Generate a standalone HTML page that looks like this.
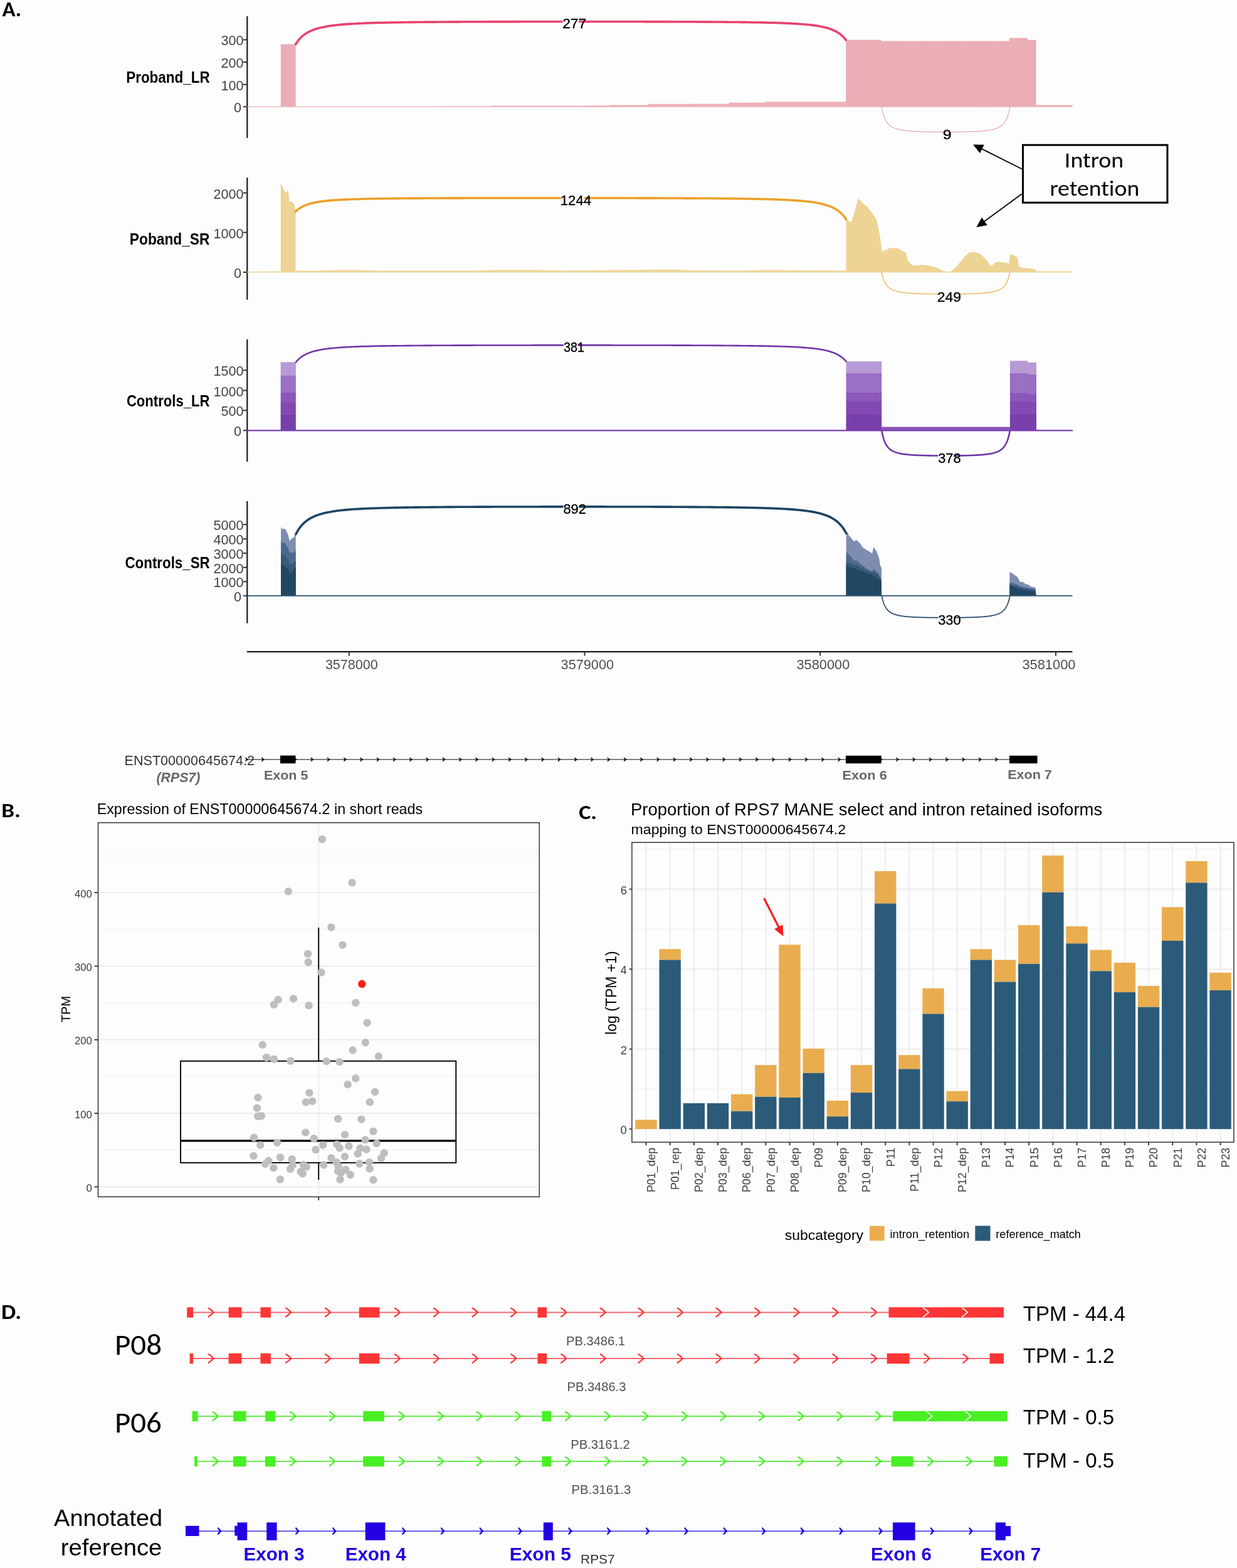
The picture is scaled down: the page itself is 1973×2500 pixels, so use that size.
<!DOCTYPE html>
<html><head><meta charset="utf-8"><title>RPS7 intron retention figure</title>
<style>
html,body{margin:0;padding:0;background:#fdfdfd;}
body{width:1973px;height:2500px;overflow:hidden;}
svg{display:block;}
text{font-variant-ligatures:none;font-feature-settings:"liga" 0,"clig" 0,"dlig" 0;}
</style></head>
<body>
<svg width="1973" height="2500" viewBox="0 0 1973 2500">
<defs><pattern id="stp" x="0.3" y="0" width="3.3" height="20" patternUnits="userSpaceOnUse"><rect x="0" y="0" width="1.1" height="20" fill="#000" fill-opacity="0.035"/></pattern></defs>
<rect x="0" y="0" width="1973" height="2500" fill="#fdfdfd"/>
<line x1="394.3" y1="25.8" x2="394.3" y2="220" stroke="#1a1a1a" stroke-width="2.2"/>
<line x1="387.8" y1="63.4" x2="394.3" y2="63.4" stroke="#333" stroke-width="2"/>
<text x="352.39" y="72.4" font-size="21.6" fill="#444" font-family="'Liberation Sans', Arial, sans-serif">300</text>
<line x1="387.8" y1="99" x2="394.3" y2="99" stroke="#333" stroke-width="2"/>
<text x="352.39" y="108" font-size="21.6" fill="#444" font-family="'Liberation Sans', Arial, sans-serif">200</text>
<line x1="387.8" y1="134.7" x2="394.3" y2="134.7" stroke="#333" stroke-width="2"/>
<text x="352.39" y="143.7" font-size="21.6" fill="#444" font-family="'Liberation Sans', Arial, sans-serif">100</text>
<line x1="387.8" y1="170.2" x2="394.3" y2="170.2" stroke="#333" stroke-width="2"/>
<text x="373.02" y="179.2" font-size="21.6" fill="#444" font-family="'Liberation Sans', Arial, sans-serif">0</text>
<text x="201.18" y="131.9" font-size="25" fill="#000" font-weight="bold" font-family="'Liberation Sans', Arial, sans-serif" textLength="133.52" lengthAdjust="spacingAndGlyphs">Proband_LR</text>
<polygon points="394.3,170.8 394.3,169.4 447.8,169.4 447.8,70.5 471.6,70.5 471.6,169.6 700,169.6 700,169.2 784,169.2 784,168.6 938,168.6 938,168.3 973,168.3 973,167.4 1034,167.4 1034,165.8 1105,165.8 1105,165.4 1163,165.4 1163,163.4 1220,163.4 1220,162.2 1349.2,162.2 1349.2,63.6 1406,63.6 1406,65.6 1610,65.6 1610,60.6 1639,60.6 1639,63.8 1652.7,63.8 1652.7,167.4 1710.7,167.4 1710.7,170.8" fill="#eeb0b8"/>
<polygon points="1349.2,63.6 1406,63.6 1406,65.6 1610,65.6 1610,60.6 1639,60.6 1639,63.8 1652.7,63.8 1652.7,170.2 1349.2,170.2" fill="url(#stp)"/>
<rect x="447.8" y="70.5" width="23.8" height="99.7" fill="url(#stp)"/>
<polyline points="471.6,70.57 471.64,70.51 471.75,70.32 471.94,70.01 472.2,69.59 472.54,69.06 472.95,68.42 473.44,67.69 474,66.88 474.64,65.99 475.35,65.05 476.14,64.05 477,63.01 477.94,61.94 478.95,60.86 480.03,59.76 481.19,58.66 482.42,57.57 483.72,56.48 485.1,55.42 486.55,54.38 488.07,53.37 489.67,52.39 491.34,51.44 493.08,50.53 494.89,49.65 496.77,48.81 498.72,48.01 500.74,47.25 502.84,46.52 505,45.83 507.23,45.18 509.54,44.56 511.91,43.98 514.35,43.43 516.85,42.91 519.43,42.42 522.07,41.95 524.78,41.52 527.55,41.11 530.39,40.72 533.29,40.36 536.26,40.02 539.29,39.7 542.39,39.4 545.55,39.12 548.77,38.85 552.06,38.6 555.4,38.36 558.81,38.14 562.28,37.93 565.8,37.74 569.39,37.55 573.03,37.38 576.73,37.22 580.49,37.06 584.31,36.92 588.18,36.78 592.11,36.65 596.09,36.53 600.12,36.42 604.21,36.31 608.35,36.21 612.54,36.11 616.79,36.02 621.08,35.94 625.42,35.85 629.81,35.78 634.25,35.71 638.74,35.64 643.28,35.57 647.86,35.51 652.48,35.45 657.15,35.4 661.86,35.35 666.62,35.3 671.41,35.25 676.25,35.21 681.13,35.16 686.04,35.12 691,35.09 695.99,35.05 701.02,35.02 706.09,34.98 711.19,34.95 716.32,34.92 721.49,34.9 726.69,34.87 731.92,34.84 737.19,34.82 742.48,34.8 747.8,34.78 753.15,34.76 758.52,34.74 763.93,34.72 769.35,34.7 774.8,34.69 780.28,34.67 785.77,34.66 791.29,34.64 796.83,34.63 802.39,34.62 807.96,34.61 813.56,34.6 819.17,34.59 824.79,34.58 830.44,34.57 836.09,34.56 841.76,34.55 847.44,34.54 853.13,34.54 858.82,34.53 864.53,34.53 870.25,34.52 875.97,34.52 881.7,34.51 887.43,34.51 893.17,34.51 898.91,34.5 904.66,34.5 910.4,34.5 916.14,34.5 921.89,34.5 927.63,34.5 933.37,34.5 939.1,34.5 944.83,34.5 950.55,34.5 956.27,34.5 961.98,34.51 967.67,34.51 973.36,34.51 979.04,34.52 984.71,34.52 990.36,34.53 996.01,34.53 1001.63,34.54 1007.24,34.55 1012.84,34.55 1018.41,34.56 1023.97,34.57 1029.51,34.58 1035.03,34.59 1040.52,34.6 1046,34.61 1051.45,34.63 1056.87,34.64 1062.28,34.65 1067.65,34.67 1073,34.68 1078.32,34.7 1083.61,34.72 1088.88,34.73 1094.11,34.75 1099.31,34.77 1104.48,34.8 1109.61,34.82 1114.71,34.84 1119.78,34.87 1124.81,34.9 1129.8,34.92 1134.76,34.96 1139.67,34.99 1144.55,35.02 1149.39,35.06 1154.18,35.09 1158.94,35.13 1163.65,35.18 1168.32,35.22 1172.94,35.27 1177.52,35.32 1182.06,35.37 1186.55,35.42 1190.99,35.48 1195.38,35.55 1199.72,35.61 1204.01,35.68 1208.26,35.75 1212.45,35.83 1216.59,35.92 1220.68,36 1224.71,36.1 1228.69,36.19 1232.62,36.3 1236.49,36.41 1240.31,36.53 1244.07,36.65 1247.77,36.79 1251.41,36.93 1255,37.08 1258.52,37.24 1261.99,37.41 1265.4,37.59 1268.74,37.78 1272.03,37.98 1275.25,38.2 1278.41,38.43 1281.51,38.68 1284.54,38.94 1287.51,39.22 1290.41,39.51 1293.25,39.83 1296.02,40.16 1298.73,40.52 1301.37,40.9 1303.95,41.3 1306.45,41.72 1308.89,42.17 1311.26,42.65 1313.57,43.15 1315.8,43.68 1317.96,44.25 1320.06,44.84 1322.08,45.46 1324.03,46.12 1325.91,46.8 1327.72,47.52 1329.46,48.26 1331.13,49.04 1332.73,49.84 1334.25,50.66 1335.7,51.51 1337.08,52.38 1338.38,53.26 1339.61,54.16 1340.77,55.06 1341.85,55.95 1342.86,56.84 1343.8,57.71 1344.66,58.56 1345.45,59.38 1346.16,60.15 1346.8,60.87 1347.36,61.53 1347.85,62.13 1348.26,62.65 1348.6,63.08 1348.86,63.43 1349.05,63.68 1349.16,63.83 1349.2,63.88" fill="none" stroke="#e8426f" stroke-width="3.6" stroke-linecap="round"/>
<polyline points="1406,170.02 1406.01,170.07 1406.04,170.22 1406.08,170.46 1406.14,170.8 1406.22,171.24 1406.32,171.76 1406.43,172.36 1406.56,173.03 1406.71,173.78 1406.88,174.58 1407.06,175.44 1407.26,176.35 1407.48,177.3 1407.72,178.28 1407.97,179.29 1408.24,180.32 1408.53,181.35 1408.83,182.4 1409.15,183.44 1409.49,184.48 1409.85,185.51 1410.22,186.53 1410.61,187.53 1411.02,188.52 1411.44,189.47 1411.88,190.41 1412.34,191.32 1412.81,192.2 1413.3,193.05 1413.8,193.87 1414.32,194.66 1414.86,195.42 1415.42,196.16 1415.99,196.86 1416.57,197.53 1417.17,198.17 1417.79,198.78 1418.42,199.37 1419.07,199.93 1419.73,200.46 1420.41,200.97 1421.1,201.46 1421.81,201.92 1422.54,202.35 1423.27,202.77 1424.03,203.16 1424.79,203.54 1425.58,203.9 1426.37,204.24 1427.18,204.56 1428.01,204.86 1428.84,205.15 1429.69,205.43 1430.56,205.69 1431.44,205.94 1432.33,206.17 1433.23,206.4 1434.15,206.61 1435.08,206.81 1436.02,207 1436.98,207.18 1437.94,207.36 1438.92,207.52 1439.91,207.68 1440.92,207.82 1441.93,207.96 1442.96,208.1 1443.99,208.22 1445.04,208.35 1446.1,208.46 1447.17,208.57 1448.25,208.67 1449.34,208.77 1450.44,208.86 1451.55,208.95 1452.67,209.04 1453.8,209.12 1454.94,209.2 1456.09,209.27 1457.25,209.34 1458.42,209.4 1459.59,209.47 1460.77,209.53 1461.97,209.58 1463.17,209.64 1464.37,209.69 1465.59,209.74 1466.81,209.78 1468.04,209.83 1469.27,209.87 1470.52,209.91 1471.77,209.95 1473.02,209.98 1474.28,210.02 1475.55,210.05 1476.83,210.08 1478.1,210.11 1479.39,210.13 1480.68,210.16 1481.97,210.18 1483.27,210.21 1484.57,210.23 1485.88,210.25 1487.19,210.26 1488.5,210.28 1489.82,210.3 1491.14,210.31 1492.47,210.33 1493.79,210.34 1495.12,210.35 1496.45,210.36 1497.79,210.37 1499.12,210.37 1500.46,210.38 1501.8,210.39 1503.14,210.39 1504.48,210.4 1505.82,210.4 1507.16,210.4 1508.5,210.4 1509.84,210.4 1511.18,210.4 1512.52,210.4 1513.86,210.39 1515.2,210.39 1516.54,210.38 1517.88,210.37 1519.21,210.37 1520.55,210.36 1521.88,210.35 1523.21,210.34 1524.53,210.33 1525.86,210.31 1527.18,210.3 1528.5,210.28 1529.81,210.26 1531.12,210.25 1532.43,210.23 1533.73,210.21 1535.03,210.18 1536.32,210.16 1537.61,210.13 1538.9,210.11 1540.17,210.08 1541.45,210.05 1542.72,210.02 1543.98,209.98 1545.23,209.95 1546.48,209.91 1547.73,209.87 1548.96,209.83 1550.19,209.78 1551.41,209.74 1552.63,209.69 1553.83,209.64 1555.03,209.58 1556.23,209.53 1557.41,209.47 1558.58,209.4 1559.75,209.34 1560.91,209.27 1562.06,209.2 1563.2,209.12 1564.33,209.04 1565.45,208.95 1566.56,208.86 1567.66,208.77 1568.75,208.67 1569.83,208.57 1570.9,208.46 1571.96,208.35 1573.01,208.22 1574.04,208.1 1575.07,207.96 1576.08,207.82 1577.09,207.68 1578.08,207.52 1579.06,207.36 1580.02,207.18 1580.98,207 1581.92,206.81 1582.85,206.61 1583.77,206.4 1584.67,206.17 1585.56,205.94 1586.44,205.69 1587.31,205.43 1588.16,205.15 1588.99,204.86 1589.82,204.56 1590.63,204.24 1591.42,203.9 1592.21,203.54 1592.97,203.16 1593.73,202.77 1594.46,202.35 1595.19,201.92 1595.9,201.46 1596.59,200.97 1597.27,200.46 1597.93,199.93 1598.58,199.37 1599.21,198.78 1599.83,198.17 1600.43,197.53 1601.01,196.86 1601.58,196.16 1602.14,195.42 1602.68,194.66 1603.2,193.87 1603.7,193.05 1604.19,192.2 1604.66,191.32 1605.12,190.41 1605.56,189.47 1605.98,188.52 1606.39,187.53 1606.78,186.53 1607.15,185.51 1607.51,184.48 1607.85,183.44 1608.17,182.4 1608.47,181.35 1608.76,180.32 1609.03,179.29 1609.28,178.28 1609.52,177.3 1609.74,176.35 1609.94,175.44 1610.12,174.58 1610.29,173.78 1610.44,173.03 1610.57,172.36 1610.68,171.76 1610.78,171.24 1610.86,170.8 1610.92,170.46 1610.96,170.22 1610.99,170.07 1611,170.02" fill="none" stroke="#e9a2b8" stroke-width="1.2"/>
<rect x="897.4" y="26.4" width="25.7" height="21.5" fill="#fdfdfd"/>
<text x="897.16" y="45.4" font-size="22.6" fill="#000" font-family="'Liberation Sans', Arial, sans-serif" textLength="38" lengthAdjust="spacingAndGlyphs" stroke="#000" stroke-width="0.35">277</text>
<text x="1503.72" y="222.4" font-size="22.6" fill="#000" font-family="'Liberation Sans', Arial, sans-serif" textLength="13.83" lengthAdjust="spacingAndGlyphs" stroke="#000" stroke-width="0.35">9</text>
<line x1="394.3" y1="283.2" x2="394.3" y2="477.8" stroke="#1a1a1a" stroke-width="2.2"/>
<line x1="387.8" y1="307.5" x2="394.3" y2="307.5" stroke="#333" stroke-width="2"/>
<text x="340.4" y="316.5" font-size="21.6" fill="#444" font-family="'Liberation Sans', Arial, sans-serif">2000</text>
<line x1="387.8" y1="370.6" x2="394.3" y2="370.6" stroke="#333" stroke-width="2"/>
<text x="340.4" y="379.6" font-size="21.6" fill="#444" font-family="'Liberation Sans', Arial, sans-serif">1000</text>
<line x1="387.8" y1="434" x2="394.3" y2="434" stroke="#333" stroke-width="2"/>
<text x="373.02" y="443" font-size="21.6" fill="#444" font-family="'Liberation Sans', Arial, sans-serif">0</text>
<text x="206.87" y="390" font-size="25" fill="#000" font-weight="bold" font-family="'Liberation Sans', Arial, sans-serif" textLength="127.53" lengthAdjust="spacingAndGlyphs">Poband_SR</text>
<polygon points="394.3,434.5 394.3,433 440,432.8 447.8,432.2 447.8,293.7 449.5,294.5 451.5,299.2 453.5,304 455.2,308.1 457.5,306 459.4,302.2 460.5,312 461.4,322.9 463,321.5 465.1,320.3 467.5,323.5 469.6,327.3 471.4,334.7 471.4,431.5 500,431.8 530,430.8 570,430.5 600,431.5 760,431.6 800,430.2 850,430.2 900,431.6 1046,430 1081,429.8 1100,431.2 1180,431.4 1220,430.6 1300,431.2 1349.5,431.4 1349.5,349 1352,352 1358,354 1362,341 1369,316 1376,324 1383,329 1384.5,331 1392,341 1397.5,349 1401.5,365 1405.4,388.5 1406.7,401.7 1413,398 1421,395 1432,396 1437,399 1445,403 1447.5,415 1455,423 1463,423.5 1471,422 1484,424 1495,427 1504,432 1508,433 1516,433 1524,427 1537,411 1545,403 1553,401.7 1563,404 1574,415 1580.6,425 1587,419 1592,417 1609.5,420 1611,405 1616,406.5 1622.7,410 1625.4,425.4 1632,427.3 1642.5,428 1651.7,429.5 1652,432.6 1710.5,432.6 1710.5,434.5" fill="#f0d696"/>
<polygon points="1349.5,434 1349.5,431.4 1349.5,349 1352,352 1358,354 1362,341 1369,316 1376,324 1383,329 1384.5,331 1392,341 1397.5,349 1401.5,365 1405.4,388.5 1406.7,401.7 1413,398 1421,395 1432,396 1437,399 1445,403 1447.5,415 1455,423 1463,423.5 1471,422 1484,424 1495,427 1504,432 1508,433 1516,433 1524,427 1537,411 1545,403 1553,401.7 1563,404 1574,415 1580.6,425 1587,419 1592,417 1609.5,420 1611,405 1616,406.5 1622.7,410 1625.4,425.4 1632,427.3 1642.5,428 1651.7,429.5 1652,432.6 1652,434" fill="url(#stp)"/>
<polygon points="447.8,434 447.8,432.2 447.8,293.7 449.5,294.5 451.5,299.2 453.5,304 455.2,308.1 457.5,306 459.4,302.2 460.5,312 461.4,322.9 463,321.5 465.1,320.3 467.5,323.5 469.6,327.3 471.4,334.7 471.4,431.5 471.4,434" fill="url(#stp)"/>
<polyline points="471.4,337.38 471.44,337.34 471.55,337.23 471.74,337.04 472,336.79 472.34,336.47 472.75,336.08 473.24,335.64 473.81,335.15 474.44,334.62 475.16,334.04 475.94,333.44 476.81,332.81 477.74,332.17 478.75,331.51 479.84,330.85 481,330.18 482.23,329.52 483.53,328.87 484.91,328.23 486.36,327.6 487.89,326.99 489.48,326.4 491.15,325.82 492.89,325.27 494.71,324.74 496.59,324.24 498.54,323.76 500.57,323.29 502.66,322.86 504.83,322.44 507.06,322.05 509.37,321.67 511.74,321.32 514.18,320.99 516.69,320.68 519.26,320.38 521.91,320.1 524.62,319.84 527.39,319.59 530.23,319.36 533.14,319.14 536.11,318.94 539.15,318.74 542.25,318.56 545.41,318.39 548.63,318.23 551.92,318.08 555.27,317.94 558.68,317.8 562.15,317.68 565.68,317.56 569.27,317.45 572.91,317.35 576.62,317.25 580.38,317.16 584.2,317.07 588.07,316.99 592,316.91 595.99,316.84 600.02,316.77 604.12,316.7 608.26,316.64 612.45,316.59 616.7,316.53 621,316.48 625.34,316.43 629.74,316.39 634.18,316.34 638.67,316.3 643.21,316.27 647.8,316.23 652.42,316.19 657.1,316.16 661.81,316.13 666.57,316.1 671.37,316.08 676.21,316.05 681.09,316.03 686.02,316 690.97,315.98 695.97,315.96 701.01,315.94 706.08,315.92 711.18,315.9 716.32,315.89 721.49,315.87 726.7,315.86 731.93,315.84 737.2,315.83 742.49,315.82 747.82,315.81 753.17,315.8 758.55,315.79 763.96,315.78 769.39,315.77 774.85,315.76 780.32,315.75 785.82,315.74 791.35,315.74 796.89,315.73 802.45,315.72 808.03,315.72 813.63,315.72 819.25,315.71 824.88,315.71 830.52,315.7 836.18,315.7 841.85,315.7 847.54,315.7 853.23,315.69 858.93,315.69 864.65,315.69 870.37,315.69 876.09,315.69 881.83,315.69 887.57,315.69 893.31,315.69 899.05,315.7 904.8,315.7 910.55,315.7 916.3,315.7 922.05,315.71 927.79,315.71 933.53,315.71 939.27,315.72 945.01,315.72 950.73,315.73 956.45,315.73 962.17,315.74 967.87,315.75 973.56,315.75 979.25,315.76 984.92,315.77 990.58,315.78 996.22,315.79 1001.85,315.8 1007.47,315.81 1013.07,315.82 1018.65,315.83 1024.21,315.84 1029.75,315.85 1035.28,315.87 1040.78,315.88 1046.25,315.9 1051.71,315.91 1057.14,315.93 1062.55,315.95 1067.93,315.97 1073.28,315.99 1078.61,316.01 1083.9,316.03 1089.17,316.05 1094.4,316.08 1099.61,316.1 1104.78,316.13 1109.92,316.16 1115.02,316.19 1120.09,316.22 1125.13,316.25 1130.12,316.28 1135.08,316.32 1140.01,316.36 1144.89,316.4 1149.73,316.44 1154.53,316.49 1159.29,316.53 1164,316.58 1168.68,316.64 1173.3,316.69 1177.89,316.75 1182.43,316.81 1186.92,316.88 1191.36,316.95 1195.76,317.02 1200.1,317.1 1204.4,317.18 1208.65,317.26 1212.84,317.36 1216.98,317.45 1221.08,317.56 1225.11,317.66 1229.1,317.78 1233.03,317.9 1236.9,318.03 1240.72,318.17 1244.48,318.32 1248.19,318.47 1251.83,318.64 1255.42,318.81 1258.95,319 1262.42,319.2 1265.83,319.41 1269.18,319.63 1272.47,319.87 1275.69,320.12 1278.85,320.39 1281.95,320.68 1284.99,320.98 1287.96,321.31 1290.87,321.65 1293.71,322.02 1296.48,322.41 1299.19,322.82 1301.84,323.26 1304.41,323.73 1306.92,324.22 1309.36,324.75 1311.73,325.3 1314.04,325.89 1316.27,326.51 1318.44,327.17 1320.53,327.86 1322.56,328.58 1324.51,329.34 1326.39,330.14 1328.21,330.98 1329.95,331.84 1331.62,332.75 1333.21,333.68 1334.74,334.64 1336.19,335.63 1337.57,336.64 1338.87,337.67 1340.1,338.71 1341.26,339.76 1342.35,340.81 1343.36,341.84 1344.29,342.86 1345.16,343.85 1345.94,344.79 1346.66,345.7 1347.29,346.54 1347.86,347.31 1348.35,348.01 1348.76,348.61 1349.1,349.12 1349.36,349.52 1349.55,349.81 1349.66,349.99 1349.7,350.05" fill="none" stroke="#eba12b" stroke-width="3.6" stroke-linecap="round"/>
<polyline points="1406.2,433.84 1406.21,433.88 1406.24,434.01 1406.28,434.23 1406.34,434.52 1406.42,434.89 1406.52,435.34 1406.63,435.86 1406.76,436.45 1406.91,437.09 1407.08,437.79 1407.26,438.53 1407.46,439.32 1407.68,440.14 1407.91,440.99 1408.17,441.86 1408.44,442.75 1408.72,443.64 1409.03,444.55 1409.35,445.45 1409.69,446.35 1410.04,447.24 1410.41,448.13 1410.8,448.99 1411.21,449.84 1411.63,450.67 1412.07,451.48 1412.53,452.27 1413,453.03 1413.49,453.77 1413.99,454.48 1414.51,455.16 1415.05,455.82 1415.6,456.45 1416.17,457.06 1416.76,457.64 1417.36,458.2 1417.97,458.73 1418.6,459.24 1419.25,459.72 1419.91,460.19 1420.59,460.63 1421.28,461.05 1421.99,461.44 1422.71,461.82 1423.45,462.18 1424.2,462.53 1424.97,462.85 1425.75,463.16 1426.54,463.45 1427.35,463.73 1428.17,464 1429.01,464.25 1429.86,464.49 1430.72,464.72 1431.6,464.93 1432.49,465.13 1433.39,465.33 1434.31,465.51 1435.24,465.69 1436.18,465.85 1437.13,466.01 1438.1,466.16 1439.07,466.3 1440.06,466.44 1441.07,466.57 1442.08,466.69 1443.1,466.8 1444.14,466.91 1445.19,467.02 1446.24,467.12 1447.31,467.21 1448.39,467.3 1449.48,467.39 1450.58,467.47 1451.69,467.55 1452.81,467.62 1453.93,467.69 1455.07,467.76 1456.22,467.82 1457.38,467.88 1458.54,467.94 1459.71,467.99 1460.89,468.04 1462.08,468.09 1463.28,468.14 1464.49,468.18 1465.7,468.23 1466.92,468.27 1468.15,468.3 1469.38,468.34 1470.62,468.37 1471.87,468.41 1473.12,468.44 1474.38,468.47 1475.65,468.49 1476.92,468.52 1478.2,468.55 1479.48,468.57 1480.77,468.59 1482.06,468.61 1483.36,468.63 1484.66,468.65 1485.96,468.67 1487.27,468.68 1488.58,468.7 1489.9,468.71 1491.22,468.72 1492.54,468.74 1493.86,468.75 1495.19,468.76 1496.52,468.76 1497.85,468.77 1499.18,468.78 1500.52,468.78 1501.86,468.79 1503.19,468.79 1504.53,468.8 1505.87,468.8 1507.21,468.8 1508.55,468.8 1509.89,468.8 1511.23,468.8 1512.57,468.8 1513.91,468.79 1515.24,468.79 1516.58,468.78 1517.92,468.78 1519.25,468.77 1520.58,468.76 1521.91,468.76 1523.24,468.75 1524.56,468.74 1525.88,468.72 1527.2,468.71 1528.52,468.7 1529.83,468.68 1531.14,468.67 1532.44,468.65 1533.74,468.63 1535.04,468.61 1536.33,468.59 1537.62,468.57 1538.9,468.55 1540.18,468.52 1541.45,468.49 1542.72,468.47 1543.98,468.44 1545.23,468.41 1546.48,468.37 1547.72,468.34 1548.95,468.3 1550.18,468.27 1551.4,468.23 1552.61,468.18 1553.82,468.14 1555.02,468.09 1556.21,468.04 1557.39,467.99 1558.56,467.94 1559.73,467.88 1560.88,467.82 1562.03,467.76 1563.17,467.69 1564.29,467.62 1565.41,467.55 1566.52,467.47 1567.62,467.39 1568.71,467.3 1569.79,467.21 1570.86,467.12 1571.91,467.02 1572.96,466.91 1574,466.8 1575.02,466.69 1576.03,466.57 1577.04,466.44 1578.03,466.3 1579,466.16 1579.97,466.01 1580.92,465.85 1581.86,465.69 1582.79,465.51 1583.71,465.33 1584.61,465.13 1585.5,464.93 1586.38,464.72 1587.24,464.49 1588.09,464.25 1588.93,464 1589.75,463.73 1590.56,463.45 1591.35,463.16 1592.13,462.85 1592.9,462.53 1593.65,462.18 1594.39,461.82 1595.11,461.44 1595.82,461.05 1596.51,460.63 1597.19,460.19 1597.85,459.72 1598.5,459.24 1599.13,458.73 1599.74,458.2 1600.34,457.64 1600.93,457.06 1601.5,456.45 1602.05,455.82 1602.59,455.16 1603.11,454.48 1603.61,453.77 1604.1,453.03 1604.57,452.27 1605.03,451.48 1605.47,450.67 1605.89,449.84 1606.3,448.99 1606.69,448.13 1607.06,447.24 1607.41,446.35 1607.75,445.45 1608.07,444.55 1608.38,443.64 1608.66,442.75 1608.93,441.86 1609.19,440.99 1609.42,440.14 1609.64,439.32 1609.84,438.53 1610.02,437.79 1610.19,437.09 1610.34,436.45 1610.47,435.86 1610.58,435.34 1610.68,434.89 1610.76,434.52 1610.82,434.23 1610.86,434.01 1610.89,433.88 1610.9,433.84" fill="none" stroke="#e9b24a" stroke-width="1.3"/>
<rect x="894.6" y="308" width="37" height="21.5" fill="#fdfdfd"/>
<text x="893.84" y="327" font-size="22.6" fill="#000" font-family="'Liberation Sans', Arial, sans-serif" textLength="49.11" lengthAdjust="spacingAndGlyphs" stroke="#000" stroke-width="0.35">1244</text>
<rect x="1495.1" y="461.8" width="25.9" height="21.5" fill="#fdfdfd"/>
<text x="1494.86" y="480.8" font-size="22.6" fill="#000" font-family="'Liberation Sans', Arial, sans-serif" textLength="38.2" lengthAdjust="spacingAndGlyphs" stroke="#000" stroke-width="0.35">249</text>
<line x1="394.3" y1="541" x2="394.3" y2="736" stroke="#1a1a1a" stroke-width="2.2"/>
<line x1="387.8" y1="590.3" x2="394.3" y2="590.3" stroke="#333" stroke-width="2"/>
<text x="340.4" y="599.3" font-size="21.6" fill="#444" font-family="'Liberation Sans', Arial, sans-serif">1500</text>
<line x1="387.8" y1="622.5" x2="394.3" y2="622.5" stroke="#333" stroke-width="2"/>
<text x="340.4" y="631.5" font-size="21.6" fill="#444" font-family="'Liberation Sans', Arial, sans-serif">1000</text>
<line x1="387.8" y1="654.3" x2="394.3" y2="654.3" stroke="#333" stroke-width="2"/>
<text x="352.39" y="663.3" font-size="21.6" fill="#444" font-family="'Liberation Sans', Arial, sans-serif">500</text>
<line x1="387.8" y1="686.3" x2="394.3" y2="686.3" stroke="#333" stroke-width="2"/>
<text x="373.02" y="695.3" font-size="21.6" fill="#444" font-family="'Liberation Sans', Arial, sans-serif">0</text>
<text x="201.92" y="647.9" font-size="25" fill="#000" font-weight="bold" font-family="'Liberation Sans', Arial, sans-serif" textLength="132.48" lengthAdjust="spacingAndGlyphs">Controls_LR</text>
<rect x="447.6" y="660.5" width="24.3" height="26.3" fill="#7a40ae"/>
<rect x="447.6" y="640.6" width="24.3" height="20.2" fill="#8549b5"/>
<rect x="447.6" y="626" width="24.3" height="14.9" fill="#8c58bc"/>
<rect x="447.6" y="598.2" width="24.3" height="28.1" fill="#9c70c7"/>
<rect x="447.6" y="577.4" width="24.3" height="21.1" fill="#b99cd8"/>
<rect x="447.6" y="577.4" width="24.3" height="108.9" fill="url(#stp)"/>
<rect x="1349.5" y="659.6" width="56.7" height="27.2" fill="#7a40ae"/>
<rect x="1349.5" y="639.9" width="56.7" height="20" fill="#8549b5"/>
<rect x="1349.5" y="625.6" width="56.7" height="14.6" fill="#8c58bc"/>
<rect x="1349.5" y="595" width="56.7" height="30.9" fill="#9c70c7"/>
<rect x="1349.5" y="576.2" width="56.7" height="19.1" fill="#b99cd8"/>
<rect x="1349.5" y="576.2" width="56.7" height="110.1" fill="url(#stp)"/>
<rect x="1610.9" y="659.6" width="28.2" height="27.2" fill="#7a40ae"/>
<rect x="1610.9" y="639.9" width="28.2" height="20" fill="#8549b5"/>
<rect x="1610.9" y="625.4" width="28.2" height="14.8" fill="#8c58bc"/>
<rect x="1610.9" y="594.6" width="28.2" height="31.1" fill="#9c70c7"/>
<rect x="1610.9" y="575.3" width="28.2" height="19.6" fill="#b99cd8"/>
<rect x="1610.9" y="575.3" width="28.2" height="111" fill="url(#stp)"/>
<rect x="1638.6" y="659.6" width="14.4" height="27.2" fill="#7a40ae"/>
<rect x="1638.6" y="639.9" width="14.4" height="20" fill="#8549b5"/>
<rect x="1638.6" y="628" width="14.4" height="12.2" fill="#8c58bc"/>
<rect x="1638.6" y="596.4" width="14.4" height="31.9" fill="#9c70c7"/>
<rect x="1638.6" y="578" width="14.4" height="18.7" fill="#b99cd8"/>
<rect x="1638.6" y="578" width="14.4" height="108.3" fill="url(#stp)"/>
<rect x="1406.2" y="680.6" width="204.7" height="5.7" fill="#8a55ba"/>
<line x1="394.3" y1="686.3" x2="1711" y2="686.3" stroke="#7a3fb0" stroke-width="2.2"/>
<polyline points="471.9,577.46 471.94,577.41 472.05,577.27 472.24,577.04 472.5,576.72 472.84,576.32 473.25,575.85 473.74,575.3 474.3,574.69 474.94,574.03 475.65,573.31 476.44,572.57 477.3,571.79 478.24,570.98 479.25,570.17 480.33,569.34 481.49,568.52 482.72,567.7 484.02,566.88 485.4,566.09 486.85,565.31 488.37,564.55 489.97,563.81 491.64,563.1 493.38,562.41 495.19,561.75 497.07,561.12 499.02,560.52 501.04,559.95 503.14,559.4 505.3,558.89 507.53,558.4 509.84,557.93 512.21,557.5 514.65,557.08 517.15,556.69 519.73,556.32 522.37,555.98 525.08,555.65 527.85,555.34 530.69,555.05 533.59,554.78 536.56,554.52 539.59,554.28 542.69,554.06 545.85,553.84 549.07,553.64 552.36,553.46 555.7,553.28 559.11,553.11 562.58,552.96 566.1,552.81 569.69,552.67 573.33,552.54 577.03,552.42 580.79,552.3 584.61,552.2 588.48,552.09 592.41,552 596.39,551.91 600.42,551.82 604.51,551.74 608.65,551.66 612.84,551.59 617.09,551.52 621.38,551.46 625.72,551.4 630.11,551.34 634.55,551.29 639.04,551.24 643.58,551.19 648.16,551.14 652.78,551.1 657.45,551.06 662.16,551.02 666.92,550.98 671.71,550.95 676.55,550.91 681.43,550.88 686.34,550.85 691.3,550.82 696.29,550.8 701.32,550.77 706.39,550.75 711.49,550.72 716.62,550.7 721.79,550.68 726.99,550.66 732.22,550.64 737.49,550.63 742.78,550.61 748.1,550.59 753.45,550.58 758.82,550.57 764.23,550.55 769.65,550.54 775.1,550.53 780.58,550.52 786.07,550.51 791.59,550.5 797.13,550.49 802.69,550.48 808.26,550.47 813.86,550.46 819.47,550.45 825.09,550.45 830.74,550.44 836.39,550.44 842.06,550.43 847.74,550.43 853.43,550.42 859.12,550.42 864.83,550.41 870.55,550.41 876.27,550.41 882,550.41 887.73,550.4 893.47,550.4 899.21,550.4 904.96,550.4 910.7,550.4 916.44,550.4 922.19,550.4 927.93,550.4 933.67,550.4 939.4,550.4 945.13,550.41 950.85,550.41 956.57,550.41 962.28,550.41 967.97,550.42 973.66,550.42 979.34,550.43 985.01,550.43 990.66,550.43 996.31,550.44 1001.93,550.45 1007.54,550.45 1013.14,550.46 1018.71,550.47 1024.27,550.48 1029.81,550.48 1035.33,550.49 1040.82,550.5 1046.3,550.51 1051.75,550.53 1057.17,550.54 1062.58,550.55 1067.95,550.56 1073.3,550.58 1078.62,550.59 1083.91,550.61 1089.18,550.62 1094.41,550.64 1099.61,550.66 1104.78,550.68 1109.91,550.7 1115.01,550.72 1120.08,550.74 1125.11,550.77 1130.1,550.79 1135.06,550.82 1139.97,550.85 1144.85,550.88 1149.69,550.91 1154.48,550.94 1159.24,550.98 1163.95,551.02 1168.62,551.06 1173.24,551.1 1177.82,551.14 1182.36,551.19 1186.85,551.24 1191.29,551.29 1195.68,551.34 1200.02,551.4 1204.31,551.46 1208.56,551.53 1212.75,551.6 1216.89,551.67 1220.98,551.75 1225.01,551.83 1228.99,551.91 1232.92,552.01 1236.79,552.1 1240.61,552.21 1244.37,552.32 1248.07,552.44 1251.71,552.56 1255.3,552.69 1258.82,552.83 1262.29,552.98 1265.7,553.14 1269.04,553.31 1272.33,553.49 1275.55,553.68 1278.71,553.88 1281.81,554.1 1284.84,554.33 1287.81,554.57 1290.71,554.83 1293.55,555.11 1296.32,555.41 1299.03,555.72 1301.67,556.05 1304.25,556.4 1306.75,556.78 1309.19,557.17 1311.56,557.59 1313.87,558.03 1316.1,558.5 1318.26,559 1320.36,559.52 1322.38,560.07 1324.33,560.64 1326.21,561.24 1328.02,561.87 1329.76,562.53 1331.43,563.21 1333.03,563.91 1334.55,564.64 1336,565.39 1337.38,566.15 1338.68,566.93 1339.91,567.71 1341.07,568.5 1342.15,569.29 1343.16,570.07 1344.1,570.84 1344.96,571.58 1345.75,572.3 1346.46,572.98 1347.1,573.61 1347.66,574.2 1348.15,574.72 1348.56,575.18 1348.9,575.56 1349.16,575.86 1349.35,576.08 1349.46,576.22 1349.5,576.26" fill="none" stroke="#6e35a6" stroke-width="2.6" stroke-linecap="round"/>
<polyline points="1406.2,686.12 1406.21,686.17 1406.24,686.31 1406.28,686.56 1406.34,686.9 1406.42,687.34 1406.52,687.86 1406.63,688.46 1406.76,689.13 1406.91,689.88 1407.08,690.69 1407.26,691.55 1407.46,692.46 1407.68,693.41 1407.91,694.39 1408.17,695.4 1408.44,696.43 1408.72,697.47 1409.03,698.51 1409.35,699.56 1409.69,700.6 1410.04,701.64 1410.41,702.66 1410.8,703.66 1411.21,704.64 1411.63,705.61 1412.07,706.54 1412.53,707.45 1413,708.34 1413.49,709.19 1413.99,710.01 1414.51,710.81 1415.05,711.57 1415.6,712.3 1416.17,713.01 1416.76,713.68 1417.36,714.33 1417.97,714.94 1418.6,715.53 1419.25,716.09 1419.91,716.63 1420.59,717.13 1421.28,717.62 1421.99,718.08 1422.71,718.52 1423.45,718.94 1424.2,719.33 1424.97,719.71 1425.75,720.07 1426.54,720.41 1427.35,720.73 1428.17,721.04 1429.01,721.33 1429.86,721.61 1430.72,721.87 1431.6,722.12 1432.49,722.36 1433.39,722.58 1434.31,722.79 1435.24,723 1436.18,723.19 1437.13,723.37 1438.1,723.54 1439.07,723.71 1440.06,723.86 1441.07,724.01 1442.08,724.15 1443.1,724.29 1444.14,724.41 1445.19,724.54 1446.24,724.65 1447.31,724.76 1448.39,724.86 1449.48,724.96 1450.58,725.06 1451.69,725.15 1452.81,725.23 1453.93,725.31 1455.07,725.39 1456.22,725.46 1457.38,725.53 1458.54,725.6 1459.71,725.66 1460.89,725.72 1462.08,725.78 1463.28,725.83 1464.49,725.89 1465.7,725.93 1466.92,725.98 1468.15,726.03 1469.38,726.07 1470.62,726.11 1471.87,726.14 1473.12,726.18 1474.38,726.21 1475.65,726.25 1476.92,726.28 1478.2,726.31 1479.48,726.33 1480.77,726.36 1482.06,726.38 1483.36,726.4 1484.66,726.43 1485.96,726.45 1487.27,726.46 1488.58,726.48 1489.9,726.5 1491.22,726.51 1492.54,726.52 1493.86,726.54 1495.19,726.55 1496.52,726.56 1497.85,726.57 1499.18,726.57 1500.52,726.58 1501.86,726.59 1503.19,726.59 1504.53,726.6 1505.87,726.6 1507.21,726.6 1508.55,726.6 1509.89,726.6 1511.23,726.6 1512.57,726.6 1513.91,726.59 1515.24,726.59 1516.58,726.58 1517.92,726.57 1519.25,726.57 1520.58,726.56 1521.91,726.55 1523.24,726.54 1524.56,726.52 1525.88,726.51 1527.2,726.5 1528.52,726.48 1529.83,726.46 1531.14,726.45 1532.44,726.43 1533.74,726.4 1535.04,726.38 1536.33,726.36 1537.62,726.33 1538.9,726.31 1540.18,726.28 1541.45,726.25 1542.72,726.21 1543.98,726.18 1545.23,726.14 1546.48,726.11 1547.72,726.07 1548.95,726.03 1550.18,725.98 1551.4,725.93 1552.61,725.89 1553.82,725.83 1555.02,725.78 1556.21,725.72 1557.39,725.66 1558.56,725.6 1559.73,725.53 1560.88,725.46 1562.03,725.39 1563.17,725.31 1564.29,725.23 1565.41,725.15 1566.52,725.06 1567.62,724.96 1568.71,724.86 1569.79,724.76 1570.86,724.65 1571.91,724.54 1572.96,724.41 1574,724.29 1575.02,724.15 1576.03,724.01 1577.04,723.86 1578.03,723.71 1579,723.54 1579.97,723.37 1580.92,723.19 1581.86,723 1582.79,722.79 1583.71,722.58 1584.61,722.36 1585.5,722.12 1586.38,721.87 1587.24,721.61 1588.09,721.33 1588.93,721.04 1589.75,720.73 1590.56,720.41 1591.35,720.07 1592.13,719.71 1592.9,719.33 1593.65,718.94 1594.39,718.52 1595.11,718.08 1595.82,717.62 1596.51,717.13 1597.19,716.63 1597.85,716.09 1598.5,715.53 1599.13,714.94 1599.74,714.33 1600.34,713.68 1600.93,713.01 1601.5,712.3 1602.05,711.57 1602.59,710.81 1603.11,710.01 1603.61,709.19 1604.1,708.34 1604.57,707.45 1605.03,706.54 1605.47,705.61 1605.89,704.64 1606.3,703.66 1606.69,702.66 1607.06,701.64 1607.41,700.6 1607.75,699.56 1608.07,698.51 1608.38,697.47 1608.66,696.43 1608.93,695.4 1609.19,694.39 1609.42,693.41 1609.64,692.46 1609.84,691.55 1610.02,690.69 1610.19,689.88 1610.34,689.13 1610.47,688.46 1610.58,687.86 1610.68,687.34 1610.76,686.9 1610.82,686.56 1610.86,686.31 1610.89,686.17 1610.9,686.12" fill="none" stroke="#6e35a6" stroke-width="2.6"/>
<rect x="898.8" y="541.9" width="22.77" height="21.5" fill="#fdfdfd"/>
<text x="898.96" y="560.9" font-size="22.6" fill="#000" font-family="'Liberation Sans', Arial, sans-serif" textLength="33" lengthAdjust="spacingAndGlyphs" stroke="#000" stroke-width="0.35">381</text>
<rect x="1496.1" y="719.1" width="25.1" height="21.5" fill="#fdfdfd"/>
<text x="1496.18" y="738.1" font-size="22.6" fill="#000" font-family="'Liberation Sans', Arial, sans-serif" textLength="36.58" lengthAdjust="spacingAndGlyphs" stroke="#000" stroke-width="0.35">378</text>
<line x1="394.3" y1="799" x2="394.3" y2="993.7" stroke="#1a1a1a" stroke-width="2.2"/>
<line x1="387.8" y1="836.3" x2="394.3" y2="836.3" stroke="#333" stroke-width="2"/>
<text x="340.4" y="845.3" font-size="21.6" fill="#444" font-family="'Liberation Sans', Arial, sans-serif">5000</text>
<line x1="387.8" y1="859.2" x2="394.3" y2="859.2" stroke="#333" stroke-width="2"/>
<text x="340.4" y="868.2" font-size="21.6" fill="#444" font-family="'Liberation Sans', Arial, sans-serif">4000</text>
<line x1="387.8" y1="882" x2="394.3" y2="882" stroke="#333" stroke-width="2"/>
<text x="340.4" y="891" font-size="21.6" fill="#444" font-family="'Liberation Sans', Arial, sans-serif">3000</text>
<line x1="387.8" y1="904.7" x2="394.3" y2="904.7" stroke="#333" stroke-width="2"/>
<text x="340.4" y="913.7" font-size="21.6" fill="#444" font-family="'Liberation Sans', Arial, sans-serif">2000</text>
<line x1="387.8" y1="927.3" x2="394.3" y2="927.3" stroke="#333" stroke-width="2"/>
<text x="340.4" y="936.3" font-size="21.6" fill="#444" font-family="'Liberation Sans', Arial, sans-serif">1000</text>
<line x1="387.8" y1="949.8" x2="394.3" y2="949.8" stroke="#333" stroke-width="2"/>
<text x="373.02" y="958.8" font-size="21.6" fill="#444" font-family="'Liberation Sans', Arial, sans-serif">0</text>
<text x="199.51" y="906.1" font-size="25" fill="#000" font-weight="bold" font-family="'Liberation Sans', Arial, sans-serif" textLength="135.17" lengthAdjust="spacingAndGlyphs">Controls_SR</text>
<polygon points="448.1,949.8 448.1,839.4 449.4,843.3 453.9,843 455.9,844.6 457.8,848.5 459.8,853.6 461.7,861.4 463,862.1 464.9,858.8 466.2,857.5 468.8,857.5 470.1,851.7 471.7,852.3 471.7,949.8" fill="#7f8fb2"/>
<polygon points="448.1,949.8 448.1,858.8 448.8,864.6 454.6,865.9 456.5,869.2 459.8,874.3 461.7,880.2 463.6,881.5 468.8,880.8 470.1,876.3 471.7,879.5 471.7,949.8" fill="#4d6b91"/>
<polygon points="448.1,949.8 448.1,882.1 454.6,886 459.8,893.1 463,901.5 466.9,897.6 471.7,894.4 471.7,949.8" fill="#375a7a"/>
<polygon points="448.1,949.8 448.1,897.6 459.8,907.3 463,915.7 468.8,909.3 471.7,904.1 471.7,949.8" fill="#224864"/>
<polygon points="448.1,949.8 448.1,839.4 449.4,843.3 453.9,843 455.9,844.6 457.8,848.5 459.8,853.6 461.7,861.4 463,862.1 464.9,858.8 466.2,857.5 468.8,857.5 470.1,851.7 471.7,852.3 471.7,949.8" fill="url(#stp)"/>
<polygon points="1349.7,949.8 1349.7,850.7 1352.3,848.8 1353.6,853.3 1358.1,858.5 1362.6,863.6 1365.5,860.7 1370.4,864.9 1373.6,868.8 1375.3,872 1379.5,875.3 1385.3,878.5 1391.1,882.4 1393.4,872 1397.6,878.5 1402.1,889.5 1404,901.2 1406,905.7 1406,949.8" fill="#7f8fb2"/>
<polygon points="1349.7,949.8 1349.7,879.8 1352.9,883 1363.3,894.7 1364.9,892.7 1373.6,899.9 1381.4,905.7 1391.1,910.9 1393.7,907 1402.1,915.4 1406,925.1 1406,949.8" fill="#4d6b91"/>
<polygon points="1349.7,949.8 1349.7,894.7 1363.3,901.8 1364.9,899.9 1381.4,909.6 1391.1,913.4 1393.7,910.9 1402.1,918.6 1406,925.7 1406,949.8" fill="#375a7a"/>
<polygon points="1349.7,949.8 1349.7,901.2 1365.9,907.6 1391.7,916.7 1406,927 1406,949.8" fill="#224864"/>
<polygon points="1349.7,949.8 1349.7,850.7 1352.3,848.8 1353.6,853.3 1358.1,858.5 1362.6,863.6 1365.5,860.7 1370.4,864.9 1373.6,868.8 1375.3,872 1379.5,875.3 1385.3,878.5 1391.1,882.4 1393.4,872 1397.6,878.5 1402.1,889.5 1404,901.2 1406,905.7 1406,949.8" fill="url(#stp)"/>
<polygon points="1610.4,949.8 1610.4,912.3 1615.2,914.3 1617.6,916.8 1621.3,918.4 1624.6,923 1626.6,927.5 1632.8,928.3 1634.8,930.7 1641,932.4 1643.9,935.2 1651.2,936.5 1651.8,939.3 1652.9,949.2 1652.9,949.8" fill="#7f8fb2"/>
<polygon points="1610.4,949.8 1610.4,928.7 1621.3,931.1 1624.6,934 1632.8,936.1 1641,937.7 1651.2,939.3 1652.4,949.2 1652.4,949.8" fill="#4d6b91"/>
<polygon points="1610.4,949.8 1610.4,931.6 1624.6,936.1 1641,939.3 1651.2,940.6 1652.4,949.2 1652.4,949.8" fill="#375a7a"/>
<polygon points="1610.4,949.8 1610.4,932.8 1624.6,938.9 1641,941.4 1651.2,943 1652.4,949.2 1652.4,949.8" fill="#224864"/>
<polygon points="1610.4,949.8 1610.4,912.3 1615.2,914.3 1617.6,916.8 1621.3,918.4 1624.6,923 1626.6,927.5 1632.8,928.3 1634.8,930.7 1641,932.4 1643.9,935.2 1651.2,936.5 1651.8,939.3 1652.9,949.2 1652.9,949.8" fill="url(#stp)"/>
<line x1="394.3" y1="949.8" x2="1710.5" y2="949.8" stroke="#2d5570" stroke-width="1.8"/>
<polyline points="471.9,851.8 471.94,851.72 472.05,851.5 472.24,851.12 472.5,850.61 472.84,849.96 473.25,849.18 473.74,848.29 474.3,847.3 474.94,846.23 475.65,845.07 476.44,843.86 477.3,842.59 478.24,841.29 479.25,839.97 480.33,838.63 481.49,837.29 482.72,835.96 484.03,834.64 485.4,833.34 486.86,832.08 488.38,830.84 489.97,829.65 491.64,828.49 493.38,827.38 495.19,826.31 497.07,825.29 499.03,824.32 501.05,823.39 503.15,822.5 505.31,821.66 507.54,820.87 509.84,820.12 512.22,819.41 514.66,818.73 517.16,818.1 519.74,817.5 522.38,816.94 525.09,816.41 527.86,815.91 530.7,815.44 533.61,815 536.58,814.59 539.61,814.2 542.71,813.83 545.87,813.48 549.09,813.16 552.38,812.85 555.72,812.57 559.13,812.3 562.6,812.04 566.12,811.81 569.71,811.58 573.36,811.37 577.06,811.17 580.82,810.99 584.63,810.81 588.51,810.64 592.43,810.49 596.42,810.34 600.45,810.2 604.54,810.07 608.68,809.95 612.87,809.83 617.12,809.72 621.41,809.61 625.76,809.52 630.15,809.42 634.59,809.34 639.08,809.25 643.61,809.17 648.2,809.1 652.82,809.03 657.49,808.96 662.2,808.9 666.96,808.84 671.76,808.78 676.6,808.73 681.48,808.68 686.39,808.63 691.35,808.58 696.34,808.54 701.38,808.5 706.44,808.46 711.54,808.42 716.68,808.39 721.85,808.36 727.05,808.32 732.28,808.29 737.55,808.27 742.84,808.24 748.16,808.21 753.51,808.19 758.89,808.17 764.29,808.15 769.72,808.12 775.17,808.11 780.65,808.09 786.15,808.07 791.66,808.05 797.2,808.04 802.76,808.03 808.34,808.01 813.94,808 819.55,807.99 825.17,807.98 830.82,807.97 836.47,807.96 842.14,807.95 847.82,807.94 853.51,807.93 859.21,807.93 864.92,807.92 870.64,807.92 876.36,807.91 882.09,807.91 887.83,807.91 893.57,807.9 899.31,807.9 905.05,807.9 910.8,807.9 916.55,807.9 922.29,807.9 928.03,807.9 933.77,807.9 939.51,807.91 945.24,807.91 950.96,807.91 956.68,807.92 962.39,807.92 968.09,807.93 973.78,807.93 979.46,807.94 985.13,807.95 990.78,807.96 996.43,807.97 1002.05,807.98 1007.66,807.99 1013.26,808 1018.84,808.01 1024.4,808.03 1029.94,808.04 1035.45,808.06 1040.95,808.07 1046.43,808.09 1051.88,808.11 1057.31,808.13 1062.71,808.15 1068.09,808.17 1073.44,808.19 1078.76,808.22 1084.05,808.24 1089.32,808.27 1094.55,808.3 1099.75,808.33 1104.92,808.36 1110.06,808.39 1115.16,808.43 1120.22,808.47 1125.26,808.51 1130.25,808.55 1135.21,808.59 1140.12,808.64 1145,808.69 1149.84,808.74 1154.64,808.79 1159.4,808.85 1164.11,808.91 1168.78,808.98 1173.4,809.04 1177.99,809.12 1182.52,809.19 1187.01,809.27 1191.45,809.36 1195.84,809.45 1200.19,809.54 1204.48,809.64 1208.73,809.75 1212.92,809.86 1217.06,809.98 1221.15,810.11 1225.18,810.24 1229.17,810.38 1233.09,810.54 1236.97,810.7 1240.78,810.87 1244.54,811.05 1248.24,811.24 1251.89,811.44 1255.48,811.66 1259,811.89 1262.47,812.13 1265.88,812.39 1269.22,812.67 1272.51,812.97 1275.73,813.28 1278.89,813.61 1281.99,813.97 1285.02,814.34 1287.99,814.74 1290.9,815.17 1293.74,815.62 1296.51,816.11 1299.22,816.62 1301.86,817.16 1304.44,817.74 1306.94,818.35 1309.38,819 1311.76,819.69 1314.06,820.42 1316.29,821.18 1318.45,821.99 1320.55,822.85 1322.57,823.75 1324.53,824.69 1326.41,825.68 1328.22,826.71 1329.96,827.78 1331.63,828.9 1333.22,830.05 1334.74,831.24 1336.2,832.47 1337.57,833.72 1338.88,834.99 1340.11,836.28 1341.27,837.58 1342.35,838.87 1343.36,840.15 1344.3,841.41 1345.16,842.63 1345.95,843.8 1346.66,844.92 1347.3,845.96 1347.86,846.91 1348.35,847.77 1348.76,848.52 1349.1,849.15 1349.36,849.65 1349.55,850.01 1349.66,850.23 1349.7,850.3" fill="none" stroke="#1d4563" stroke-width="3.6" stroke-linecap="round"/>
<polyline points="1406.2,949.64 1406.21,949.68 1406.24,949.81 1406.28,950.03 1406.34,950.32 1406.42,950.7 1406.52,951.15 1406.63,951.67 1406.76,952.26 1406.91,952.91 1407.08,953.61 1407.26,954.36 1407.46,955.15 1407.68,955.98 1407.91,956.83 1408.17,957.7 1408.44,958.6 1408.72,959.5 1409.03,960.41 1409.35,961.32 1409.69,962.22 1410.04,963.12 1410.41,964.01 1410.8,964.88 1411.21,965.73 1411.63,966.57 1412.07,967.38 1412.53,968.17 1413,968.94 1413.49,969.68 1413.99,970.39 1414.51,971.08 1415.05,971.75 1415.6,972.38 1416.17,972.99 1416.76,973.58 1417.36,974.14 1417.97,974.67 1418.6,975.19 1419.25,975.67 1419.91,976.14 1420.59,976.58 1421.28,977 1421.99,977.4 1422.71,977.78 1423.45,978.15 1424.2,978.49 1424.97,978.82 1425.75,979.13 1426.54,979.42 1427.35,979.7 1428.17,979.97 1429.01,980.22 1429.86,980.46 1430.72,980.69 1431.6,980.91 1432.49,981.11 1433.39,981.31 1434.31,981.49 1435.24,981.67 1436.18,981.84 1437.13,981.99 1438.1,982.14 1439.07,982.29 1440.06,982.42 1441.07,982.55 1442.08,982.68 1443.1,982.79 1444.14,982.9 1445.19,983.01 1446.24,983.11 1447.31,983.2 1448.39,983.29 1449.48,983.38 1450.58,983.46 1451.69,983.54 1452.81,983.61 1453.93,983.68 1455.07,983.75 1456.22,983.81 1457.38,983.87 1458.54,983.93 1459.71,983.99 1460.89,984.04 1462.08,984.09 1463.28,984.13 1464.49,984.18 1465.7,984.22 1466.92,984.26 1468.15,984.3 1469.38,984.34 1470.62,984.37 1471.87,984.4 1473.12,984.44 1474.38,984.47 1475.65,984.49 1476.92,984.52 1478.2,984.54 1479.48,984.57 1480.77,984.59 1482.06,984.61 1483.36,984.63 1484.66,984.65 1485.96,984.67 1487.27,984.68 1488.58,984.7 1489.9,984.71 1491.22,984.72 1492.54,984.73 1493.86,984.75 1495.19,984.75 1496.52,984.76 1497.85,984.77 1499.18,984.78 1500.52,984.78 1501.86,984.79 1503.19,984.79 1504.53,984.8 1505.87,984.8 1507.21,984.8 1508.55,984.8 1509.89,984.8 1511.23,984.8 1512.57,984.8 1513.91,984.79 1515.24,984.79 1516.58,984.78 1517.92,984.78 1519.25,984.77 1520.58,984.76 1521.91,984.75 1523.24,984.75 1524.56,984.73 1525.88,984.72 1527.2,984.71 1528.52,984.7 1529.83,984.68 1531.14,984.67 1532.44,984.65 1533.74,984.63 1535.04,984.61 1536.33,984.59 1537.62,984.57 1538.9,984.54 1540.18,984.52 1541.45,984.49 1542.72,984.47 1543.98,984.44 1545.23,984.4 1546.48,984.37 1547.72,984.34 1548.95,984.3 1550.18,984.26 1551.4,984.22 1552.61,984.18 1553.82,984.13 1555.02,984.09 1556.21,984.04 1557.39,983.99 1558.56,983.93 1559.73,983.87 1560.88,983.81 1562.03,983.75 1563.17,983.68 1564.29,983.61 1565.41,983.54 1566.52,983.46 1567.62,983.38 1568.71,983.29 1569.79,983.2 1570.86,983.11 1571.91,983.01 1572.96,982.9 1574,982.79 1575.02,982.68 1576.03,982.55 1577.04,982.42 1578.03,982.29 1579,982.14 1579.97,981.99 1580.92,981.84 1581.86,981.67 1582.79,981.49 1583.71,981.31 1584.61,981.11 1585.5,980.91 1586.38,980.69 1587.24,980.46 1588.09,980.22 1588.93,979.97 1589.75,979.7 1590.56,979.42 1591.35,979.13 1592.13,978.82 1592.9,978.49 1593.65,978.15 1594.39,977.78 1595.11,977.4 1595.82,977 1596.51,976.58 1597.19,976.14 1597.85,975.67 1598.5,975.19 1599.13,974.67 1599.74,974.14 1600.34,973.58 1600.93,972.99 1601.5,972.38 1602.05,971.75 1602.59,971.08 1603.11,970.39 1603.61,969.68 1604.1,968.94 1604.57,968.17 1605.03,967.38 1605.47,966.57 1605.89,965.73 1606.3,964.88 1606.69,964.01 1607.06,963.12 1607.41,962.22 1607.75,961.32 1608.07,960.41 1608.38,959.5 1608.66,958.6 1608.93,957.7 1609.19,956.83 1609.42,955.98 1609.64,955.15 1609.84,954.36 1610.02,953.61 1610.19,952.91 1610.34,952.26 1610.47,951.67 1610.58,951.15 1610.68,950.7 1610.76,950.32 1610.82,950.03 1610.86,949.81 1610.89,949.68 1610.9,949.64" fill="none" stroke="#2a5070" stroke-width="1.8"/>
<rect x="898.5" y="799.8" width="24.83" height="21.5" fill="#fdfdfd"/>
<text x="898.47" y="818.8" font-size="22.6" fill="#000" font-family="'Liberation Sans', Arial, sans-serif" textLength="36.44" lengthAdjust="spacingAndGlyphs" stroke="#000" stroke-width="0.35">892</text>
<rect x="1496.1" y="977" width="25.1" height="21.5" fill="#fdfdfd"/>
<text x="1496.18" y="996" font-size="22.6" fill="#000" font-family="'Liberation Sans', Arial, sans-serif" textLength="36.46" lengthAdjust="spacingAndGlyphs" stroke="#000" stroke-width="0.35">330</text>
<rect x="1631.5" y="231.2" width="230.5" height="91.9" fill="none" stroke="#000" stroke-width="3"/>
<text x="1697.87" y="267.2" font-size="35.5" fill="#000" font-family="Carlito, 'Liberation Sans', sans-serif" textLength="94.44" lengthAdjust="spacingAndGlyphs">Intron</text>
<text x="1674.44" y="312" font-size="35.5" fill="#000" font-family="Carlito, 'Liberation Sans', sans-serif" textLength="142.85" lengthAdjust="spacingAndGlyphs">retention</text>
<line x1="1630" y1="269.5" x2="1564.52" y2="236.67" stroke="#000" stroke-width="1.8"/>
<polygon points="1552,230.4 1569.66,230.87 1562.94,244.27" fill="#000"/>
<line x1="1630" y1="309" x2="1568.69" y2="354.01" stroke="#000" stroke-width="1.8"/>
<polygon points="1557.4,362.3 1565.86,346.79 1574.74,358.88" fill="#000"/>
<line x1="393.8" y1="1039.2" x2="1710.4" y2="1039.2" stroke="#1a1a1a" stroke-width="2.2"/>
<line x1="556.8" y1="1039.2" x2="556.8" y2="1045.6" stroke="#333" stroke-width="2"/>
<text x="518.89" y="1066.5" font-size="22" fill="#4d4d4d" font-family="'Liberation Sans', Arial, sans-serif" textLength="83.93" lengthAdjust="spacingAndGlyphs">3578000</text>
<line x1="932.5" y1="1039.2" x2="932.5" y2="1045.6" stroke="#333" stroke-width="2"/>
<text x="894.59" y="1066.5" font-size="22" fill="#4d4d4d" font-family="'Liberation Sans', Arial, sans-serif" textLength="84.44" lengthAdjust="spacingAndGlyphs">3579000</text>
<line x1="1308.2" y1="1039.2" x2="1308.2" y2="1045.6" stroke="#333" stroke-width="2"/>
<text x="1270.48" y="1066.5" font-size="22" fill="#4d4d4d" font-family="'Liberation Sans', Arial, sans-serif" textLength="84.85" lengthAdjust="spacingAndGlyphs">3580000</text>
<line x1="1684" y1="1039.2" x2="1684" y2="1045.6" stroke="#333" stroke-width="2"/>
<text x="1630.48" y="1066.5" font-size="22" fill="#4d4d4d" font-family="'Liberation Sans', Arial, sans-serif" textLength="84.95" lengthAdjust="spacingAndGlyphs">3581000</text>
<line x1="393.6" y1="1210.9" x2="1610" y2="1210.9" stroke="#6e6e6e" stroke-width="1.8"/>
<polygon points="396.1,1210.9 390.9,1207.1 392.3,1210.9 390.9,1214.7" fill="#000"/>
<polygon points="422.1,1210.9 416.9,1207.1 418.3,1210.9 416.9,1214.7" fill="#000"/>
<polygon points="473.8,1210.9 468.6,1207.1 470,1210.9 468.6,1214.7" fill="#000"/>
<polygon points="500.5,1210.9 495.3,1207.1 496.7,1210.9 495.3,1214.7" fill="#000"/>
<polygon points="526.78,1210.9 521.58,1207.1 522.98,1210.9 521.58,1214.7" fill="#000"/>
<polygon points="553.06,1210.9 547.86,1207.1 549.26,1210.9 547.86,1214.7" fill="#000"/>
<polygon points="579.34,1210.9 574.14,1207.1 575.54,1210.9 574.14,1214.7" fill="#000"/>
<polygon points="605.62,1210.9 600.42,1207.1 601.82,1210.9 600.42,1214.7" fill="#000"/>
<polygon points="631.9,1210.9 626.7,1207.1 628.1,1210.9 626.7,1214.7" fill="#000"/>
<polygon points="658.18,1210.9 652.98,1207.1 654.38,1210.9 652.98,1214.7" fill="#000"/>
<polygon points="684.46,1210.9 679.26,1207.1 680.66,1210.9 679.26,1214.7" fill="#000"/>
<polygon points="710.74,1210.9 705.54,1207.1 706.94,1210.9 705.54,1214.7" fill="#000"/>
<polygon points="737.02,1210.9 731.82,1207.1 733.22,1210.9 731.82,1214.7" fill="#000"/>
<polygon points="763.3,1210.9 758.1,1207.1 759.5,1210.9 758.1,1214.7" fill="#000"/>
<polygon points="789.58,1210.9 784.38,1207.1 785.78,1210.9 784.38,1214.7" fill="#000"/>
<polygon points="815.86,1210.9 810.66,1207.1 812.06,1210.9 810.66,1214.7" fill="#000"/>
<polygon points="842.14,1210.9 836.94,1207.1 838.34,1210.9 836.94,1214.7" fill="#000"/>
<polygon points="868.42,1210.9 863.22,1207.1 864.62,1210.9 863.22,1214.7" fill="#000"/>
<polygon points="894.7,1210.9 889.5,1207.1 890.9,1210.9 889.5,1214.7" fill="#000"/>
<polygon points="920.98,1210.9 915.78,1207.1 917.18,1210.9 915.78,1214.7" fill="#000"/>
<polygon points="947.26,1210.9 942.06,1207.1 943.46,1210.9 942.06,1214.7" fill="#000"/>
<polygon points="973.54,1210.9 968.34,1207.1 969.74,1210.9 968.34,1214.7" fill="#000"/>
<polygon points="999.82,1210.9 994.62,1207.1 996.02,1210.9 994.62,1214.7" fill="#000"/>
<polygon points="1026.1,1210.9 1020.9,1207.1 1022.3,1210.9 1020.9,1214.7" fill="#000"/>
<polygon points="1052.38,1210.9 1047.18,1207.1 1048.58,1210.9 1047.18,1214.7" fill="#000"/>
<polygon points="1078.66,1210.9 1073.46,1207.1 1074.86,1210.9 1073.46,1214.7" fill="#000"/>
<polygon points="1104.94,1210.9 1099.74,1207.1 1101.14,1210.9 1099.74,1214.7" fill="#000"/>
<polygon points="1131.22,1210.9 1126.02,1207.1 1127.42,1210.9 1126.02,1214.7" fill="#000"/>
<polygon points="1157.5,1210.9 1152.3,1207.1 1153.7,1210.9 1152.3,1214.7" fill="#000"/>
<polygon points="1183.78,1210.9 1178.58,1207.1 1179.98,1210.9 1178.58,1214.7" fill="#000"/>
<polygon points="1210.06,1210.9 1204.86,1207.1 1206.26,1210.9 1204.86,1214.7" fill="#000"/>
<polygon points="1236.34,1210.9 1231.14,1207.1 1232.54,1210.9 1231.14,1214.7" fill="#000"/>
<polygon points="1262.62,1210.9 1257.42,1207.1 1258.82,1210.9 1257.42,1214.7" fill="#000"/>
<polygon points="1288.9,1210.9 1283.7,1207.1 1285.1,1210.9 1283.7,1214.7" fill="#000"/>
<polygon points="1315.18,1210.9 1309.98,1207.1 1311.38,1210.9 1309.98,1214.7" fill="#000"/>
<polygon points="1341.46,1210.9 1336.26,1207.1 1337.66,1210.9 1336.26,1214.7" fill="#000"/>
<polygon points="1407.75,1210.9 1402.55,1207.1 1403.95,1210.9 1402.55,1214.7" fill="#000"/>
<polygon points="1434.1,1210.9 1428.9,1207.1 1430.3,1210.9 1428.9,1214.7" fill="#000"/>
<polygon points="1460.45,1210.9 1455.25,1207.1 1456.65,1210.9 1455.25,1214.7" fill="#000"/>
<polygon points="1486.8,1210.9 1481.6,1207.1 1483,1210.9 1481.6,1214.7" fill="#000"/>
<polygon points="1513.15,1210.9 1507.95,1207.1 1509.35,1210.9 1507.95,1214.7" fill="#000"/>
<polygon points="1539.5,1210.9 1534.3,1207.1 1535.7,1210.9 1534.3,1214.7" fill="#000"/>
<polygon points="1565.85,1210.9 1560.65,1207.1 1562.05,1210.9 1560.65,1214.7" fill="#000"/>
<polygon points="1592.2,1210.9 1587,1207.1 1588.4,1210.9 1587,1214.7" fill="#000"/>
<rect x="447" y="1204.6" width="24.5" height="12.6" fill="#000"/>
<rect x="1349" y="1204.8" width="56.7" height="12.4" fill="#000"/>
<rect x="1610" y="1204.8" width="44.6" height="12.4" fill="#000"/>
<text x="198.62" y="1220.4" font-size="22.6" fill="#333" font-family="'Liberation Sans', Arial, sans-serif" textLength="207.29" lengthAdjust="spacingAndGlyphs">ENST00000645674.2</text>
<text x="249.45" y="1247.4" font-size="21.6" fill="#666" font-weight="bold" font-style="italic" font-family="'Liberation Sans', Arial, sans-serif" textLength="69.85" lengthAdjust="spacingAndGlyphs">(RPS7)</text>
<text x="420.95" y="1243.2" font-size="21" fill="#666" font-weight="bold" font-family="'Liberation Sans', Arial, sans-serif" textLength="70.47" lengthAdjust="spacingAndGlyphs">Exon 5</text>
<text x="1343.53" y="1243" font-size="21" fill="#666" font-weight="bold" font-family="'Liberation Sans', Arial, sans-serif" textLength="71.26" lengthAdjust="spacingAndGlyphs">Exon 6</text>
<text x="1607.15" y="1241.5" font-size="21" fill="#666" font-weight="bold" font-family="'Liberation Sans', Arial, sans-serif" textLength="70.6" lengthAdjust="spacingAndGlyphs">Exon 7</text>
<text x="3.41" y="25.8" font-size="34.4" fill="#000" font-weight="bold" font-family="Carlito, 'Liberation Sans', sans-serif" textLength="30.69" lengthAdjust="spacingAndGlyphs">A.</text>
<text x="2.27" y="1303.3" font-size="32.8" fill="#000" font-weight="bold" font-family="Carlito, 'Liberation Sans', sans-serif" textLength="30.66" lengthAdjust="spacingAndGlyphs">B.</text>
<text x="923.18" y="1305.7" font-size="31.5" fill="#000" font-weight="bold" font-family="Carlito, 'Liberation Sans', sans-serif" textLength="28.86" lengthAdjust="spacingAndGlyphs">C.</text>
<text x="1.98" y="2103" font-size="33.6" fill="#000" font-weight="bold" font-family="Carlito, 'Liberation Sans', sans-serif" textLength="32.25" lengthAdjust="spacingAndGlyphs">D.</text>
<text x="154.68" y="1297.5" font-size="23.6" fill="#000" font-family="'Liberation Sans', Arial, sans-serif" textLength="519.53" lengthAdjust="spacingAndGlyphs">Expression of ENST00000645674.2 in short reads</text>
<rect x="156.5" y="1311.7" width="703.8" height="596.5" fill="#fdfdfd"/>
<line x1="156.5" y1="1833.66" x2="860.3" y2="1833.66" stroke="#f1f1f1" stroke-width="1.2"/>
<line x1="156.5" y1="1716.38" x2="860.3" y2="1716.38" stroke="#f1f1f1" stroke-width="1.2"/>
<line x1="156.5" y1="1599.1" x2="860.3" y2="1599.1" stroke="#f1f1f1" stroke-width="1.2"/>
<line x1="156.5" y1="1481.82" x2="860.3" y2="1481.82" stroke="#f1f1f1" stroke-width="1.2"/>
<line x1="156.5" y1="1364.54" x2="860.3" y2="1364.54" stroke="#f1f1f1" stroke-width="1.2"/>
<line x1="156.5" y1="1892.3" x2="860.3" y2="1892.3" stroke="#ebebeb" stroke-width="1.8"/>
<line x1="156.5" y1="1775.02" x2="860.3" y2="1775.02" stroke="#ebebeb" stroke-width="1.8"/>
<line x1="156.5" y1="1657.74" x2="860.3" y2="1657.74" stroke="#ebebeb" stroke-width="1.8"/>
<line x1="156.5" y1="1540.46" x2="860.3" y2="1540.46" stroke="#ebebeb" stroke-width="1.8"/>
<line x1="156.5" y1="1423.18" x2="860.3" y2="1423.18" stroke="#ebebeb" stroke-width="1.8"/>
<line x1="508.2" y1="1311.7" x2="508.2" y2="1908.2" stroke="#ebebeb" stroke-width="1.8"/>
<rect x="288" y="1691.75" width="439.3" height="162.08" fill="none" stroke="#000" stroke-width="1.9"/>
<line x1="508.2" y1="1478.9" x2="508.2" y2="1691.75" stroke="#000" stroke-width="1.9"/>
<line x1="508.2" y1="1853.83" x2="508.2" y2="1881" stroke="#000" stroke-width="1.9"/>
<line x1="288" y1="1818.9" x2="727.3" y2="1818.9" stroke="#000" stroke-width="3.4"/>
<circle cx="513.8" cy="1338.1" r="6.2" fill="#bebebe"/>
<circle cx="561.7" cy="1407.4" r="6.2" fill="#bebebe"/>
<circle cx="459.9" cy="1421.3" r="6.2" fill="#bebebe"/>
<circle cx="528.3" cy="1478.5" r="6.2" fill="#bebebe"/>
<circle cx="546.4" cy="1506.6" r="6.2" fill="#bebebe"/>
<circle cx="491" cy="1521" r="6.2" fill="#bebebe"/>
<circle cx="491.7" cy="1534.2" r="6.2" fill="#bebebe"/>
<circle cx="512.5" cy="1550.5" r="6.2" fill="#bebebe"/>
<circle cx="443.6" cy="1593.9" r="6.2" fill="#bebebe"/>
<circle cx="436.9" cy="1601.8" r="6.2" fill="#bebebe"/>
<circle cx="468.1" cy="1592.3" r="6.2" fill="#bebebe"/>
<circle cx="492.5" cy="1603.2" r="6.2" fill="#bebebe"/>
<circle cx="567.3" cy="1598.8" r="6.2" fill="#bebebe"/>
<circle cx="585.6" cy="1630.7" r="6.2" fill="#bebebe"/>
<circle cx="418.8" cy="1665.9" r="6.2" fill="#bebebe"/>
<circle cx="582.8" cy="1662.3" r="6.2" fill="#bebebe"/>
<circle cx="562.6" cy="1674.3" r="6.2" fill="#bebebe"/>
<circle cx="425.1" cy="1686" r="6.2" fill="#bebebe"/>
<circle cx="437.1" cy="1688.7" r="6.2" fill="#bebebe"/>
<circle cx="463.4" cy="1691.5" r="6.2" fill="#bebebe"/>
<circle cx="520.8" cy="1692.2" r="6.2" fill="#bebebe"/>
<circle cx="541.5" cy="1693.1" r="6.2" fill="#bebebe"/>
<circle cx="603.8" cy="1684.3" r="6.2" fill="#bebebe"/>
<circle cx="567.2" cy="1719.3" r="6.2" fill="#bebebe"/>
<circle cx="554.6" cy="1729.2" r="6.2" fill="#bebebe"/>
<circle cx="598.1" cy="1740.9" r="6.2" fill="#bebebe"/>
<circle cx="411.5" cy="1750" r="6.2" fill="#bebebe"/>
<circle cx="493.4" cy="1742.4" r="6.2" fill="#bebebe"/>
<circle cx="487.8" cy="1757.3" r="6.2" fill="#bebebe"/>
<circle cx="498.3" cy="1755.7" r="6.2" fill="#bebebe"/>
<circle cx="589.8" cy="1757.3" r="6.2" fill="#bebebe"/>
<circle cx="410" cy="1766.5" r="6.2" fill="#bebebe"/>
<circle cx="411.2" cy="1780" r="6.2" fill="#bebebe"/>
<circle cx="417" cy="1779.3" r="6.2" fill="#bebebe"/>
<circle cx="539.1" cy="1783.8" r="6.2" fill="#bebebe"/>
<circle cx="576.4" cy="1784.6" r="6.2" fill="#bebebe"/>
<circle cx="487.3" cy="1805.6" r="6.2" fill="#bebebe"/>
<circle cx="550" cy="1809.1" r="6.2" fill="#bebebe"/>
<circle cx="595.4" cy="1803.8" r="6.2" fill="#bebebe"/>
<circle cx="405.1" cy="1813.7" r="6.2" fill="#bebebe"/>
<circle cx="500.7" cy="1815.2" r="6.2" fill="#bebebe"/>
<circle cx="582.5" cy="1817.3" r="6.2" fill="#bebebe"/>
<circle cx="442.1" cy="1821.9" r="6.2" fill="#bebebe"/>
<circle cx="600.7" cy="1823.1" r="6.2" fill="#bebebe"/>
<circle cx="415.3" cy="1825.7" r="6.2" fill="#bebebe"/>
<circle cx="515.2" cy="1825.7" r="6.2" fill="#bebebe"/>
<circle cx="537.3" cy="1824.6" r="6.2" fill="#bebebe"/>
<circle cx="541.7" cy="1830.4" r="6.2" fill="#bebebe"/>
<circle cx="556.3" cy="1827.4" r="6.2" fill="#bebebe"/>
<circle cx="574.5" cy="1830.7" r="6.2" fill="#bebebe"/>
<circle cx="584.4" cy="1832.7" r="6.2" fill="#bebebe"/>
<circle cx="503.6" cy="1833" r="6.2" fill="#bebebe"/>
<circle cx="570.7" cy="1839.5" r="6.2" fill="#bebebe"/>
<circle cx="612.6" cy="1838.3" r="6.2" fill="#bebebe"/>
<circle cx="404.4" cy="1842.9" r="6.2" fill="#bebebe"/>
<circle cx="550" cy="1844" r="6.2" fill="#bebebe"/>
<circle cx="447" cy="1845.5" r="6.2" fill="#bebebe"/>
<circle cx="528.4" cy="1846.2" r="6.2" fill="#bebebe"/>
<circle cx="608" cy="1846.7" r="6.2" fill="#bebebe"/>
<circle cx="428.4" cy="1850.8" r="6.2" fill="#bebebe"/>
<circle cx="465.6" cy="1848.2" r="6.2" fill="#bebebe"/>
<circle cx="423.1" cy="1855.8" r="6.2" fill="#bebebe"/>
<circle cx="536.8" cy="1853.5" r="6.2" fill="#bebebe"/>
<circle cx="573.3" cy="1855.5" r="6.2" fill="#bebebe"/>
<circle cx="589" cy="1853.1" r="6.2" fill="#bebebe"/>
<circle cx="484" cy="1857" r="6.2" fill="#bebebe"/>
<circle cx="466.8" cy="1857.3" r="6.2" fill="#bebebe"/>
<circle cx="488.8" cy="1860.4" r="6.2" fill="#bebebe"/>
<circle cx="516.2" cy="1857.3" r="6.2" fill="#bebebe"/>
<circle cx="436.3" cy="1862.2" r="6.2" fill="#bebebe"/>
<circle cx="463" cy="1863.9" r="6.2" fill="#bebebe"/>
<circle cx="539.8" cy="1859.6" r="6.2" fill="#bebebe"/>
<circle cx="551.3" cy="1865" r="6.2" fill="#bebebe"/>
<circle cx="589.8" cy="1863.4" r="6.2" fill="#bebebe"/>
<circle cx="479.7" cy="1868" r="6.2" fill="#bebebe"/>
<circle cx="482.8" cy="1871.4" r="6.2" fill="#bebebe"/>
<circle cx="539.1" cy="1867.2" r="6.2" fill="#bebebe"/>
<circle cx="543.6" cy="1870.3" r="6.2" fill="#bebebe"/>
<circle cx="558.9" cy="1873" r="6.2" fill="#bebebe"/>
<circle cx="447" cy="1880.5" r="6.2" fill="#bebebe"/>
<circle cx="542.6" cy="1880.6" r="6.2" fill="#bebebe"/>
<circle cx="595.4" cy="1881.2" r="6.2" fill="#bebebe"/>
<circle cx="577.3" cy="1568.8" r="6.2" fill="#ff1a1a"/>
<rect x="156.5" y="1311.7" width="703.8" height="596.5" fill="none" stroke="#333" stroke-width="1.5"/>
<line x1="150.7" y1="1892.3" x2="156.5" y2="1892.3" stroke="#333" stroke-width="1.9"/>
<text x="137.56" y="1899.8" font-size="16.7" fill="#3a3a3a" font-family="'Liberation Sans', Arial, sans-serif" textLength="9.29" lengthAdjust="spacingAndGlyphs">0</text>
<line x1="150.7" y1="1775.02" x2="156.5" y2="1775.02" stroke="#333" stroke-width="1.9"/>
<text x="118.98" y="1782.52" font-size="16.7" fill="#3a3a3a" font-family="'Liberation Sans', Arial, sans-serif" textLength="27.86" lengthAdjust="spacingAndGlyphs">100</text>
<line x1="150.7" y1="1657.74" x2="156.5" y2="1657.74" stroke="#333" stroke-width="1.9"/>
<text x="118.98" y="1665.24" font-size="16.7" fill="#3a3a3a" font-family="'Liberation Sans', Arial, sans-serif" textLength="27.86" lengthAdjust="spacingAndGlyphs">200</text>
<line x1="150.7" y1="1540.46" x2="156.5" y2="1540.46" stroke="#333" stroke-width="1.9"/>
<text x="118.98" y="1547.96" font-size="16.7" fill="#3a3a3a" font-family="'Liberation Sans', Arial, sans-serif" textLength="27.86" lengthAdjust="spacingAndGlyphs">300</text>
<line x1="150.7" y1="1423.18" x2="156.5" y2="1423.18" stroke="#333" stroke-width="1.9"/>
<text x="118.98" y="1430.68" font-size="16.7" fill="#3a3a3a" font-family="'Liberation Sans', Arial, sans-serif" textLength="27.86" lengthAdjust="spacingAndGlyphs">400</text>
<line x1="508.2" y1="1908.2" x2="508.2" y2="1913.7" stroke="#333" stroke-width="1.9"/>
<text x="0" y="0" font-size="19.9" fill="#000" text-anchor="middle" font-family="'Liberation Sans', Arial, sans-serif" transform="translate(111.5 1609) rotate(-90)">TPM</text>
<text x="1005.93" y="1299.5" font-size="28" fill="#000" font-family="'Liberation Sans', Arial, sans-serif" textLength="752.32" lengthAdjust="spacingAndGlyphs">Proportion of RPS7 MANE select and intron retained isoforms</text>
<text x="1006.64" y="1330.2" font-size="22.5" fill="#000" font-family="'Liberation Sans', Arial, sans-serif" textLength="342.36" lengthAdjust="spacingAndGlyphs">mapping to ENST00000645674.2</text>
<rect x="1007.9" y="1343.2" width="960.1" height="477.9" fill="#fdfdfd"/>
<line x1="1007.9" y1="1736.35" x2="1968" y2="1736.35" stroke="#f1f1f1" stroke-width="1.2"/>
<line x1="1007.9" y1="1608.85" x2="1968" y2="1608.85" stroke="#f1f1f1" stroke-width="1.2"/>
<line x1="1007.9" y1="1481.35" x2="1968" y2="1481.35" stroke="#f1f1f1" stroke-width="1.2"/>
<line x1="1007.9" y1="1353.85" x2="1968" y2="1353.85" stroke="#f1f1f1" stroke-width="1.2"/>
<line x1="1007.9" y1="1800.1" x2="1968" y2="1800.1" stroke="#ebebeb" stroke-width="1.8"/>
<line x1="1007.9" y1="1672.6" x2="1968" y2="1672.6" stroke="#ebebeb" stroke-width="1.8"/>
<line x1="1007.9" y1="1545.1" x2="1968" y2="1545.1" stroke="#ebebeb" stroke-width="1.8"/>
<line x1="1007.9" y1="1417.6" x2="1968" y2="1417.6" stroke="#ebebeb" stroke-width="1.8"/>
<line x1="1030.5" y1="1343.2" x2="1030.5" y2="1821.1" stroke="#ebebeb" stroke-width="1.8"/>
<line x1="1068.67" y1="1343.2" x2="1068.67" y2="1821.1" stroke="#ebebeb" stroke-width="1.8"/>
<line x1="1106.84" y1="1343.2" x2="1106.84" y2="1821.1" stroke="#ebebeb" stroke-width="1.8"/>
<line x1="1145.01" y1="1343.2" x2="1145.01" y2="1821.1" stroke="#ebebeb" stroke-width="1.8"/>
<line x1="1183.18" y1="1343.2" x2="1183.18" y2="1821.1" stroke="#ebebeb" stroke-width="1.8"/>
<line x1="1221.35" y1="1343.2" x2="1221.35" y2="1821.1" stroke="#ebebeb" stroke-width="1.8"/>
<line x1="1259.52" y1="1343.2" x2="1259.52" y2="1821.1" stroke="#ebebeb" stroke-width="1.8"/>
<line x1="1297.69" y1="1343.2" x2="1297.69" y2="1821.1" stroke="#ebebeb" stroke-width="1.8"/>
<line x1="1335.86" y1="1343.2" x2="1335.86" y2="1821.1" stroke="#ebebeb" stroke-width="1.8"/>
<line x1="1374.03" y1="1343.2" x2="1374.03" y2="1821.1" stroke="#ebebeb" stroke-width="1.8"/>
<line x1="1412.2" y1="1343.2" x2="1412.2" y2="1821.1" stroke="#ebebeb" stroke-width="1.8"/>
<line x1="1450.37" y1="1343.2" x2="1450.37" y2="1821.1" stroke="#ebebeb" stroke-width="1.8"/>
<line x1="1488.54" y1="1343.2" x2="1488.54" y2="1821.1" stroke="#ebebeb" stroke-width="1.8"/>
<line x1="1526.71" y1="1343.2" x2="1526.71" y2="1821.1" stroke="#ebebeb" stroke-width="1.8"/>
<line x1="1564.88" y1="1343.2" x2="1564.88" y2="1821.1" stroke="#ebebeb" stroke-width="1.8"/>
<line x1="1603.05" y1="1343.2" x2="1603.05" y2="1821.1" stroke="#ebebeb" stroke-width="1.8"/>
<line x1="1641.22" y1="1343.2" x2="1641.22" y2="1821.1" stroke="#ebebeb" stroke-width="1.8"/>
<line x1="1679.39" y1="1343.2" x2="1679.39" y2="1821.1" stroke="#ebebeb" stroke-width="1.8"/>
<line x1="1717.56" y1="1343.2" x2="1717.56" y2="1821.1" stroke="#ebebeb" stroke-width="1.8"/>
<line x1="1755.73" y1="1343.2" x2="1755.73" y2="1821.1" stroke="#ebebeb" stroke-width="1.8"/>
<line x1="1793.9" y1="1343.2" x2="1793.9" y2="1821.1" stroke="#ebebeb" stroke-width="1.8"/>
<line x1="1832.07" y1="1343.2" x2="1832.07" y2="1821.1" stroke="#ebebeb" stroke-width="1.8"/>
<line x1="1870.24" y1="1343.2" x2="1870.24" y2="1821.1" stroke="#ebebeb" stroke-width="1.8"/>
<line x1="1908.41" y1="1343.2" x2="1908.41" y2="1821.1" stroke="#ebebeb" stroke-width="1.8"/>
<line x1="1946.58" y1="1343.2" x2="1946.58" y2="1821.1" stroke="#ebebeb" stroke-width="1.8"/>
<rect x="1013.33" y="1785.44" width="34.35" height="14.66" fill="#e9ad4f"/>
<rect x="1051.5" y="1513.22" width="34.35" height="17.21" fill="#e9ad4f"/>
<rect x="1051.5" y="1530.44" width="34.35" height="269.66" fill="#2b5b79"/>
<rect x="1089.66" y="1758.98" width="34.35" height="41.12" fill="#2b5b79"/>
<rect x="1127.84" y="1758.98" width="34.35" height="41.12" fill="#2b5b79"/>
<rect x="1166.01" y="1744.64" width="34.35" height="27.09" fill="#e9ad4f"/>
<rect x="1166.01" y="1771.73" width="34.35" height="28.37" fill="#2b5b79"/>
<rect x="1204.17" y="1698.1" width="34.35" height="50.62" fill="#e9ad4f"/>
<rect x="1204.17" y="1748.72" width="34.35" height="51.38" fill="#2b5b79"/>
<rect x="1242.35" y="1506.21" width="34.35" height="243.72" fill="#e9ad4f"/>
<rect x="1242.35" y="1749.93" width="34.35" height="50.17" fill="#2b5b79"/>
<rect x="1280.52" y="1671.96" width="34.35" height="38.89" fill="#e9ad4f"/>
<rect x="1280.52" y="1710.85" width="34.35" height="89.25" fill="#2b5b79"/>
<rect x="1318.69" y="1754.84" width="34.35" height="25.31" fill="#e9ad4f"/>
<rect x="1318.69" y="1780.15" width="34.35" height="19.95" fill="#2b5b79"/>
<rect x="1356.86" y="1698.1" width="34.35" height="43.99" fill="#e9ad4f"/>
<rect x="1356.86" y="1742.09" width="34.35" height="58.01" fill="#2b5b79"/>
<rect x="1395.03" y="1388.91" width="34.35" height="51.64" fill="#e9ad4f"/>
<rect x="1395.03" y="1440.55" width="34.35" height="359.55" fill="#2b5b79"/>
<rect x="1433.19" y="1682.16" width="34.35" height="22.31" fill="#e9ad4f"/>
<rect x="1433.19" y="1704.47" width="34.35" height="95.62" fill="#2b5b79"/>
<rect x="1471.37" y="1575.7" width="34.35" height="40.8" fill="#e9ad4f"/>
<rect x="1471.37" y="1616.5" width="34.35" height="183.6" fill="#2b5b79"/>
<rect x="1509.54" y="1739.54" width="34.35" height="16.58" fill="#e9ad4f"/>
<rect x="1509.54" y="1756.11" width="34.35" height="43.99" fill="#2b5b79"/>
<rect x="1547.71" y="1513.22" width="34.35" height="17.21" fill="#e9ad4f"/>
<rect x="1547.71" y="1530.44" width="34.35" height="269.66" fill="#2b5b79"/>
<rect x="1585.88" y="1530.44" width="34.35" height="35.06" fill="#e9ad4f"/>
<rect x="1585.88" y="1565.5" width="34.35" height="234.6" fill="#2b5b79"/>
<rect x="1624.05" y="1474.97" width="34.35" height="61.84" fill="#e9ad4f"/>
<rect x="1624.05" y="1536.81" width="34.35" height="263.29" fill="#2b5b79"/>
<rect x="1662.21" y="1364.05" width="34.35" height="58.65" fill="#e9ad4f"/>
<rect x="1662.21" y="1422.7" width="34.35" height="377.4" fill="#2b5b79"/>
<rect x="1700.38" y="1476.89" width="34.35" height="27.41" fill="#e9ad4f"/>
<rect x="1700.38" y="1504.3" width="34.35" height="295.8" fill="#2b5b79"/>
<rect x="1738.56" y="1514.5" width="34.35" height="33.79" fill="#e9ad4f"/>
<rect x="1738.56" y="1548.29" width="34.35" height="251.81" fill="#2b5b79"/>
<rect x="1776.73" y="1534.9" width="34.35" height="47.17" fill="#e9ad4f"/>
<rect x="1776.73" y="1582.07" width="34.35" height="218.03" fill="#2b5b79"/>
<rect x="1814.9" y="1571.88" width="34.35" height="33.79" fill="#e9ad4f"/>
<rect x="1814.9" y="1605.66" width="34.35" height="194.44" fill="#2b5b79"/>
<rect x="1853.07" y="1446.29" width="34.35" height="53.55" fill="#e9ad4f"/>
<rect x="1853.07" y="1499.84" width="34.35" height="300.26" fill="#2b5b79"/>
<rect x="1891.24" y="1372.97" width="34.35" height="34.42" fill="#e9ad4f"/>
<rect x="1891.24" y="1407.4" width="34.35" height="392.7" fill="#2b5b79"/>
<rect x="1929.4" y="1550.84" width="34.35" height="28.05" fill="#e9ad4f"/>
<rect x="1929.4" y="1578.89" width="34.35" height="221.21" fill="#2b5b79"/>
<rect x="1007.9" y="1343.2" width="960.1" height="477.9" fill="none" stroke="#333" stroke-width="1.5"/>
<line x1="1003.6" y1="1800.1" x2="1007.9" y2="1800.1" stroke="#333" stroke-width="1.7"/>
<text x="989.58" y="1808.2" font-size="18.4" fill="#3a3a3a" font-family="'Liberation Sans', Arial, sans-serif" textLength="10.23" lengthAdjust="spacingAndGlyphs">0</text>
<line x1="1003.6" y1="1672.6" x2="1007.9" y2="1672.6" stroke="#333" stroke-width="1.7"/>
<text x="989.81" y="1680.7" font-size="18.4" fill="#3a3a3a" font-family="'Liberation Sans', Arial, sans-serif" textLength="10.23" lengthAdjust="spacingAndGlyphs">2</text>
<line x1="1003.6" y1="1545.1" x2="1007.9" y2="1545.1" stroke="#333" stroke-width="1.7"/>
<text x="989.39" y="1553.2" font-size="18.4" fill="#3a3a3a" font-family="'Liberation Sans', Arial, sans-serif" textLength="10.23" lengthAdjust="spacingAndGlyphs">4</text>
<line x1="1003.6" y1="1417.6" x2="1007.9" y2="1417.6" stroke="#333" stroke-width="1.7"/>
<text x="989.67" y="1425.7" font-size="18.4" fill="#3a3a3a" font-family="'Liberation Sans', Arial, sans-serif" textLength="10.23" lengthAdjust="spacingAndGlyphs">6</text>
<line x1="1030.5" y1="1821.1" x2="1030.5" y2="1826.1" stroke="#333" stroke-width="1.9"/>
<text x="0" y="0" font-size="17.8" fill="#3a3a3a" text-anchor="end" font-family="'Liberation Sans', Arial, sans-serif" transform="translate(1044.8 1829.8) rotate(-90)">P01_dep</text>
<line x1="1068.67" y1="1821.1" x2="1068.67" y2="1826.1" stroke="#333" stroke-width="1.9"/>
<text x="0" y="0" font-size="17.8" fill="#3a3a3a" text-anchor="end" font-family="'Liberation Sans', Arial, sans-serif" transform="translate(1082.97 1829.8) rotate(-90)">P01_rep</text>
<line x1="1106.84" y1="1821.1" x2="1106.84" y2="1826.1" stroke="#333" stroke-width="1.9"/>
<text x="0" y="0" font-size="17.8" fill="#3a3a3a" text-anchor="end" font-family="'Liberation Sans', Arial, sans-serif" transform="translate(1121.14 1829.8) rotate(-90)">P02_dep</text>
<line x1="1145.01" y1="1821.1" x2="1145.01" y2="1826.1" stroke="#333" stroke-width="1.9"/>
<text x="0" y="0" font-size="17.8" fill="#3a3a3a" text-anchor="end" font-family="'Liberation Sans', Arial, sans-serif" transform="translate(1159.31 1829.8) rotate(-90)">P03_dep</text>
<line x1="1183.18" y1="1821.1" x2="1183.18" y2="1826.1" stroke="#333" stroke-width="1.9"/>
<text x="0" y="0" font-size="17.8" fill="#3a3a3a" text-anchor="end" font-family="'Liberation Sans', Arial, sans-serif" transform="translate(1197.48 1829.8) rotate(-90)">P06_dep</text>
<line x1="1221.35" y1="1821.1" x2="1221.35" y2="1826.1" stroke="#333" stroke-width="1.9"/>
<text x="0" y="0" font-size="17.8" fill="#3a3a3a" text-anchor="end" font-family="'Liberation Sans', Arial, sans-serif" transform="translate(1235.65 1829.8) rotate(-90)">P07_dep</text>
<line x1="1259.52" y1="1821.1" x2="1259.52" y2="1826.1" stroke="#333" stroke-width="1.9"/>
<text x="0" y="0" font-size="17.8" fill="#3a3a3a" text-anchor="end" font-family="'Liberation Sans', Arial, sans-serif" transform="translate(1273.82 1829.8) rotate(-90)">P08_dep</text>
<line x1="1297.69" y1="1821.1" x2="1297.69" y2="1826.1" stroke="#333" stroke-width="1.9"/>
<text x="0" y="0" font-size="17.8" fill="#3a3a3a" text-anchor="end" font-family="'Liberation Sans', Arial, sans-serif" transform="translate(1311.99 1829.8) rotate(-90)">P09</text>
<line x1="1335.86" y1="1821.1" x2="1335.86" y2="1826.1" stroke="#333" stroke-width="1.9"/>
<text x="0" y="0" font-size="17.8" fill="#3a3a3a" text-anchor="end" font-family="'Liberation Sans', Arial, sans-serif" transform="translate(1350.16 1829.8) rotate(-90)">P09_dep</text>
<line x1="1374.03" y1="1821.1" x2="1374.03" y2="1826.1" stroke="#333" stroke-width="1.9"/>
<text x="0" y="0" font-size="17.8" fill="#3a3a3a" text-anchor="end" font-family="'Liberation Sans', Arial, sans-serif" transform="translate(1388.33 1829.8) rotate(-90)">P10_dep</text>
<line x1="1412.2" y1="1821.1" x2="1412.2" y2="1826.1" stroke="#333" stroke-width="1.9"/>
<text x="0" y="0" font-size="17.8" fill="#3a3a3a" text-anchor="end" font-family="'Liberation Sans', Arial, sans-serif" transform="translate(1426.5 1829.8) rotate(-90)">P11</text>
<line x1="1450.37" y1="1821.1" x2="1450.37" y2="1826.1" stroke="#333" stroke-width="1.9"/>
<text x="0" y="0" font-size="17.8" fill="#3a3a3a" text-anchor="end" font-family="'Liberation Sans', Arial, sans-serif" transform="translate(1464.67 1829.8) rotate(-90)">P11_dep</text>
<line x1="1488.54" y1="1821.1" x2="1488.54" y2="1826.1" stroke="#333" stroke-width="1.9"/>
<text x="0" y="0" font-size="17.8" fill="#3a3a3a" text-anchor="end" font-family="'Liberation Sans', Arial, sans-serif" transform="translate(1502.84 1829.8) rotate(-90)">P12</text>
<line x1="1526.71" y1="1821.1" x2="1526.71" y2="1826.1" stroke="#333" stroke-width="1.9"/>
<text x="0" y="0" font-size="17.8" fill="#3a3a3a" text-anchor="end" font-family="'Liberation Sans', Arial, sans-serif" transform="translate(1541.01 1829.8) rotate(-90)">P12_dep</text>
<line x1="1564.88" y1="1821.1" x2="1564.88" y2="1826.1" stroke="#333" stroke-width="1.9"/>
<text x="0" y="0" font-size="17.8" fill="#3a3a3a" text-anchor="end" font-family="'Liberation Sans', Arial, sans-serif" transform="translate(1579.18 1829.8) rotate(-90)">P13</text>
<line x1="1603.05" y1="1821.1" x2="1603.05" y2="1826.1" stroke="#333" stroke-width="1.9"/>
<text x="0" y="0" font-size="17.8" fill="#3a3a3a" text-anchor="end" font-family="'Liberation Sans', Arial, sans-serif" transform="translate(1617.35 1829.8) rotate(-90)">P14</text>
<line x1="1641.22" y1="1821.1" x2="1641.22" y2="1826.1" stroke="#333" stroke-width="1.9"/>
<text x="0" y="0" font-size="17.8" fill="#3a3a3a" text-anchor="end" font-family="'Liberation Sans', Arial, sans-serif" transform="translate(1655.52 1829.8) rotate(-90)">P15</text>
<line x1="1679.39" y1="1821.1" x2="1679.39" y2="1826.1" stroke="#333" stroke-width="1.9"/>
<text x="0" y="0" font-size="17.8" fill="#3a3a3a" text-anchor="end" font-family="'Liberation Sans', Arial, sans-serif" transform="translate(1693.69 1829.8) rotate(-90)">P16</text>
<line x1="1717.56" y1="1821.1" x2="1717.56" y2="1826.1" stroke="#333" stroke-width="1.9"/>
<text x="0" y="0" font-size="17.8" fill="#3a3a3a" text-anchor="end" font-family="'Liberation Sans', Arial, sans-serif" transform="translate(1731.86 1829.8) rotate(-90)">P17</text>
<line x1="1755.73" y1="1821.1" x2="1755.73" y2="1826.1" stroke="#333" stroke-width="1.9"/>
<text x="0" y="0" font-size="17.8" fill="#3a3a3a" text-anchor="end" font-family="'Liberation Sans', Arial, sans-serif" transform="translate(1770.03 1829.8) rotate(-90)">P18</text>
<line x1="1793.9" y1="1821.1" x2="1793.9" y2="1826.1" stroke="#333" stroke-width="1.9"/>
<text x="0" y="0" font-size="17.8" fill="#3a3a3a" text-anchor="end" font-family="'Liberation Sans', Arial, sans-serif" transform="translate(1808.2 1829.8) rotate(-90)">P19</text>
<line x1="1832.07" y1="1821.1" x2="1832.07" y2="1826.1" stroke="#333" stroke-width="1.9"/>
<text x="0" y="0" font-size="17.8" fill="#3a3a3a" text-anchor="end" font-family="'Liberation Sans', Arial, sans-serif" transform="translate(1846.37 1829.8) rotate(-90)">P20</text>
<line x1="1870.24" y1="1821.1" x2="1870.24" y2="1826.1" stroke="#333" stroke-width="1.9"/>
<text x="0" y="0" font-size="17.8" fill="#3a3a3a" text-anchor="end" font-family="'Liberation Sans', Arial, sans-serif" transform="translate(1884.54 1829.8) rotate(-90)">P21</text>
<line x1="1908.41" y1="1821.1" x2="1908.41" y2="1826.1" stroke="#333" stroke-width="1.9"/>
<text x="0" y="0" font-size="17.8" fill="#3a3a3a" text-anchor="end" font-family="'Liberation Sans', Arial, sans-serif" transform="translate(1922.71 1829.8) rotate(-90)">P22</text>
<line x1="1946.58" y1="1821.1" x2="1946.58" y2="1826.1" stroke="#333" stroke-width="1.9"/>
<text x="0" y="0" font-size="17.8" fill="#3a3a3a" text-anchor="end" font-family="'Liberation Sans', Arial, sans-serif" transform="translate(1960.88 1829.8) rotate(-90)">P23</text>
<text x="0" y="0" font-size="23" fill="#000" text-anchor="middle" font-family="'Liberation Sans', Arial, sans-serif" transform="translate(983 1583) rotate(-90)">log (TPM +1)</text>
<line x1="1218.6" y1="1432.1" x2="1242.7" y2="1479.53" stroke="#f51d1d" stroke-width="3.2"/>
<polygon points="1249.5,1492.9 1235.11,1481.14 1248.48,1474.35" fill="#f51d1d"/>
<text x="1251.67" y="1976.8" font-size="22.9" fill="#000" font-family="'Liberation Sans', Arial, sans-serif" textLength="125.4" lengthAdjust="spacingAndGlyphs">subcategory</text>
<rect x="1387" y="1954.6" width="23.7" height="23.6" fill="#e9ad4f"/>
<text x="1419.57" y="1974.4" font-size="17.8" fill="#000" font-family="'Liberation Sans', Arial, sans-serif" textLength="126.5" lengthAdjust="spacingAndGlyphs">intron_retention</text>
<rect x="1555.3" y="1954.4" width="24.2" height="24" fill="#2b5b79"/>
<text x="1588.33" y="1974.4" font-size="17.8" fill="#000" font-family="'Liberation Sans', Arial, sans-serif" textLength="135.53" lengthAdjust="spacingAndGlyphs">reference_match</text>
<line x1="298.2" y1="2092.5" x2="1601" y2="2092.5" stroke="#f26a72" stroke-width="1.8"/>
<path d="M331.9,2085.2 Q337.62,2088.27 340.7,2092.5 Q337.18,2096.15 331.9,2099.8" fill="none" stroke="#fc3535" stroke-width="2.3" stroke-linejoin="miter"/>
<path d="M455.4,2085.2 Q461.12,2088.27 464.2,2092.5 Q460.68,2096.15 455.4,2099.8" fill="none" stroke="#fc3535" stroke-width="2.3" stroke-linejoin="miter"/>
<path d="M518.2,2085.2 Q523.92,2088.27 527,2092.5 Q523.48,2096.15 518.2,2099.8" fill="none" stroke="#fc3535" stroke-width="2.3" stroke-linejoin="miter"/>
<path d="M629,2085.2 Q634.72,2088.27 637.8,2092.5 Q634.28,2096.15 629,2099.8" fill="none" stroke="#fc3535" stroke-width="2.3" stroke-linejoin="miter"/>
<path d="M691.1,2085.2 Q696.82,2088.27 699.9,2092.5 Q696.38,2096.15 691.1,2099.8" fill="none" stroke="#fc3535" stroke-width="2.3" stroke-linejoin="miter"/>
<path d="M752.9,2085.2 Q758.62,2088.27 761.7,2092.5 Q758.18,2096.15 752.9,2099.8" fill="none" stroke="#fc3535" stroke-width="2.3" stroke-linejoin="miter"/>
<path d="M814.4,2085.2 Q820.12,2088.27 823.2,2092.5 Q819.68,2096.15 814.4,2099.8" fill="none" stroke="#fc3535" stroke-width="2.3" stroke-linejoin="miter"/>
<path d="M894.4,2085.2 Q900.12,2088.27 903.2,2092.5 Q899.68,2096.15 894.4,2099.8" fill="none" stroke="#fc3535" stroke-width="2.3" stroke-linejoin="miter"/>
<path d="M956.9,2085.2 Q962.62,2088.27 965.7,2092.5 Q962.18,2096.15 956.9,2099.8" fill="none" stroke="#fc3535" stroke-width="2.3" stroke-linejoin="miter"/>
<path d="M1017.7,2085.2 Q1023.42,2088.27 1026.5,2092.5 Q1022.98,2096.15 1017.7,2099.8" fill="none" stroke="#fc3535" stroke-width="2.3" stroke-linejoin="miter"/>
<path d="M1080,2085.2 Q1085.72,2088.27 1088.8,2092.5 Q1085.28,2096.15 1080,2099.8" fill="none" stroke="#fc3535" stroke-width="2.3" stroke-linejoin="miter"/>
<path d="M1141.7,2085.2 Q1147.42,2088.27 1150.5,2092.5 Q1146.98,2096.15 1141.7,2099.8" fill="none" stroke="#fc3535" stroke-width="2.3" stroke-linejoin="miter"/>
<path d="M1203.3,2085.2 Q1209.02,2088.27 1212.1,2092.5 Q1208.58,2096.15 1203.3,2099.8" fill="none" stroke="#fc3535" stroke-width="2.3" stroke-linejoin="miter"/>
<path d="M1265.6,2085.2 Q1271.32,2088.27 1274.4,2092.5 Q1270.88,2096.15 1265.6,2099.8" fill="none" stroke="#fc3535" stroke-width="2.3" stroke-linejoin="miter"/>
<path d="M1327.6,2085.2 Q1333.32,2088.27 1336.4,2092.5 Q1332.88,2096.15 1327.6,2099.8" fill="none" stroke="#fc3535" stroke-width="2.3" stroke-linejoin="miter"/>
<path d="M1389.2,2085.2 Q1394.92,2088.27 1398,2092.5 Q1394.48,2096.15 1389.2,2099.8" fill="none" stroke="#fc3535" stroke-width="2.3" stroke-linejoin="miter"/>
<rect x="298.2" y="2084.3" width="9.9" height="16.4" fill="#fc3535"/>
<rect x="364.6" y="2084.3" width="20.8" height="16.4" fill="#fc3535"/>
<rect x="415.5" y="2084.3" width="16.4" height="16.4" fill="#fc3535"/>
<rect x="572.8" y="2084.3" width="32.6" height="16.4" fill="#fc3535"/>
<rect x="857.5" y="2084.3" width="14.6" height="16.4" fill="#fc3535"/>
<rect x="1417.5" y="2084.3" width="183.5" height="16.4" fill="#fc3535"/>
<path d="M1472.3,2085.2 Q1478.02,2088.27 1481.1,2092.5 Q1477.58,2096.15 1472.3,2099.8" fill="none" stroke="#ffffff" stroke-width="1.8" stroke-linejoin="miter"/>
<path d="M1534.2,2085.2 Q1539.92,2088.27 1543,2092.5 Q1539.48,2096.15 1534.2,2099.8" fill="none" stroke="#ffffff" stroke-width="1.8" stroke-linejoin="miter"/>
<line x1="302.6" y1="2166" x2="1601" y2="2166" stroke="#f26a72" stroke-width="1.8"/>
<path d="M331.9,2158.7 Q337.62,2161.77 340.7,2166 Q337.18,2169.65 331.9,2173.3" fill="none" stroke="#fc3535" stroke-width="2.3" stroke-linejoin="miter"/>
<path d="M455.4,2158.7 Q461.12,2161.77 464.2,2166 Q460.68,2169.65 455.4,2173.3" fill="none" stroke="#fc3535" stroke-width="2.3" stroke-linejoin="miter"/>
<path d="M518.2,2158.7 Q523.92,2161.77 527,2166 Q523.48,2169.65 518.2,2173.3" fill="none" stroke="#fc3535" stroke-width="2.3" stroke-linejoin="miter"/>
<path d="M629,2158.7 Q634.72,2161.77 637.8,2166 Q634.28,2169.65 629,2173.3" fill="none" stroke="#fc3535" stroke-width="2.3" stroke-linejoin="miter"/>
<path d="M691.1,2158.7 Q696.82,2161.77 699.9,2166 Q696.38,2169.65 691.1,2173.3" fill="none" stroke="#fc3535" stroke-width="2.3" stroke-linejoin="miter"/>
<path d="M752.9,2158.7 Q758.62,2161.77 761.7,2166 Q758.18,2169.65 752.9,2173.3" fill="none" stroke="#fc3535" stroke-width="2.3" stroke-linejoin="miter"/>
<path d="M814.4,2158.7 Q820.12,2161.77 823.2,2166 Q819.68,2169.65 814.4,2173.3" fill="none" stroke="#fc3535" stroke-width="2.3" stroke-linejoin="miter"/>
<path d="M894.4,2158.7 Q900.12,2161.77 903.2,2166 Q899.68,2169.65 894.4,2173.3" fill="none" stroke="#fc3535" stroke-width="2.3" stroke-linejoin="miter"/>
<path d="M956.9,2158.7 Q962.62,2161.77 965.7,2166 Q962.18,2169.65 956.9,2173.3" fill="none" stroke="#fc3535" stroke-width="2.3" stroke-linejoin="miter"/>
<path d="M1017.7,2158.7 Q1023.42,2161.77 1026.5,2166 Q1022.98,2169.65 1017.7,2173.3" fill="none" stroke="#fc3535" stroke-width="2.3" stroke-linejoin="miter"/>
<path d="M1080,2158.7 Q1085.72,2161.77 1088.8,2166 Q1085.28,2169.65 1080,2173.3" fill="none" stroke="#fc3535" stroke-width="2.3" stroke-linejoin="miter"/>
<path d="M1141.7,2158.7 Q1147.42,2161.77 1150.5,2166 Q1146.98,2169.65 1141.7,2173.3" fill="none" stroke="#fc3535" stroke-width="2.3" stroke-linejoin="miter"/>
<path d="M1203.3,2158.7 Q1209.02,2161.77 1212.1,2166 Q1208.58,2169.65 1203.3,2173.3" fill="none" stroke="#fc3535" stroke-width="2.3" stroke-linejoin="miter"/>
<path d="M1265.6,2158.7 Q1271.32,2161.77 1274.4,2166 Q1270.88,2169.65 1265.6,2173.3" fill="none" stroke="#fc3535" stroke-width="2.3" stroke-linejoin="miter"/>
<path d="M1327.6,2158.7 Q1333.32,2161.77 1336.4,2166 Q1332.88,2169.65 1327.6,2173.3" fill="none" stroke="#fc3535" stroke-width="2.3" stroke-linejoin="miter"/>
<path d="M1389.2,2158.7 Q1394.92,2161.77 1398,2166 Q1394.48,2169.65 1389.2,2173.3" fill="none" stroke="#fc3535" stroke-width="2.3" stroke-linejoin="miter"/>
<path d="M1473.6,2158.7 Q1479.32,2161.77 1482.4,2166 Q1478.88,2169.65 1473.6,2173.3" fill="none" stroke="#fc3535" stroke-width="2.3" stroke-linejoin="miter"/>
<path d="M1535.5,2158.7 Q1541.22,2161.77 1544.3,2166 Q1540.78,2169.65 1535.5,2173.3" fill="none" stroke="#fc3535" stroke-width="2.3" stroke-linejoin="miter"/>
<rect x="302.6" y="2157.8" width="5.5" height="16.4" fill="#fc3535"/>
<rect x="364.6" y="2157.8" width="20.8" height="16.4" fill="#fc3535"/>
<rect x="415.5" y="2157.8" width="16.4" height="16.4" fill="#fc3535"/>
<rect x="572.8" y="2157.8" width="32.6" height="16.4" fill="#fc3535"/>
<rect x="857.5" y="2157.8" width="14.6" height="16.4" fill="#fc3535"/>
<rect x="1414.7" y="2157.8" width="36" height="16.4" fill="#fc3535"/>
<rect x="1578.5" y="2157.8" width="22.5" height="16.4" fill="#fc3535"/>
<line x1="306.6" y1="2258" x2="1606.7" y2="2258" stroke="#68ee4c" stroke-width="1.8"/>
<path d="M338.9,2250.7 Q344.62,2253.77 347.7,2258 Q344.18,2261.65 338.9,2265.3" fill="none" stroke="#48f024" stroke-width="2.3" stroke-linejoin="miter"/>
<path d="M462.4,2250.7 Q468.12,2253.77 471.2,2258 Q467.68,2261.65 462.4,2265.3" fill="none" stroke="#48f024" stroke-width="2.3" stroke-linejoin="miter"/>
<path d="M525.2,2250.7 Q530.92,2253.77 534,2258 Q530.48,2261.65 525.2,2265.3" fill="none" stroke="#48f024" stroke-width="2.3" stroke-linejoin="miter"/>
<path d="M636,2250.7 Q641.72,2253.77 644.8,2258 Q641.28,2261.65 636,2265.3" fill="none" stroke="#48f024" stroke-width="2.3" stroke-linejoin="miter"/>
<path d="M698.1,2250.7 Q703.82,2253.77 706.9,2258 Q703.38,2261.65 698.1,2265.3" fill="none" stroke="#48f024" stroke-width="2.3" stroke-linejoin="miter"/>
<path d="M759.9,2250.7 Q765.62,2253.77 768.7,2258 Q765.18,2261.65 759.9,2265.3" fill="none" stroke="#48f024" stroke-width="2.3" stroke-linejoin="miter"/>
<path d="M821.4,2250.7 Q827.12,2253.77 830.2,2258 Q826.68,2261.65 821.4,2265.3" fill="none" stroke="#48f024" stroke-width="2.3" stroke-linejoin="miter"/>
<path d="M901.4,2250.7 Q907.12,2253.77 910.2,2258 Q906.68,2261.65 901.4,2265.3" fill="none" stroke="#48f024" stroke-width="2.3" stroke-linejoin="miter"/>
<path d="M963.9,2250.7 Q969.62,2253.77 972.7,2258 Q969.18,2261.65 963.9,2265.3" fill="none" stroke="#48f024" stroke-width="2.3" stroke-linejoin="miter"/>
<path d="M1024.7,2250.7 Q1030.42,2253.77 1033.5,2258 Q1029.98,2261.65 1024.7,2265.3" fill="none" stroke="#48f024" stroke-width="2.3" stroke-linejoin="miter"/>
<path d="M1087,2250.7 Q1092.72,2253.77 1095.8,2258 Q1092.28,2261.65 1087,2265.3" fill="none" stroke="#48f024" stroke-width="2.3" stroke-linejoin="miter"/>
<path d="M1148.7,2250.7 Q1154.42,2253.77 1157.5,2258 Q1153.98,2261.65 1148.7,2265.3" fill="none" stroke="#48f024" stroke-width="2.3" stroke-linejoin="miter"/>
<path d="M1210.3,2250.7 Q1216.02,2253.77 1219.1,2258 Q1215.58,2261.65 1210.3,2265.3" fill="none" stroke="#48f024" stroke-width="2.3" stroke-linejoin="miter"/>
<path d="M1272.6,2250.7 Q1278.32,2253.77 1281.4,2258 Q1277.88,2261.65 1272.6,2265.3" fill="none" stroke="#48f024" stroke-width="2.3" stroke-linejoin="miter"/>
<path d="M1334.6,2250.7 Q1340.32,2253.77 1343.4,2258 Q1339.88,2261.65 1334.6,2265.3" fill="none" stroke="#48f024" stroke-width="2.3" stroke-linejoin="miter"/>
<path d="M1396.2,2250.7 Q1401.92,2253.77 1405,2258 Q1401.48,2261.65 1396.2,2265.3" fill="none" stroke="#48f024" stroke-width="2.3" stroke-linejoin="miter"/>
<rect x="306.6" y="2249.8" width="9" height="16.4" fill="#48f024"/>
<rect x="372.1" y="2249.8" width="20.5" height="16.4" fill="#48f024"/>
<rect x="423" y="2249.8" width="16.3" height="16.4" fill="#48f024"/>
<rect x="579.1" y="2249.8" width="33.6" height="16.4" fill="#48f024"/>
<rect x="864.5" y="2249.8" width="14.8" height="16.4" fill="#48f024"/>
<rect x="1424.2" y="2249.8" width="182.5" height="16.4" fill="#48f024"/>
<path d="M1477.7,2250.7 Q1483.42,2253.77 1486.5,2258 Q1482.98,2261.65 1477.7,2265.3" fill="none" stroke="#ffffff" stroke-width="1.8" stroke-linejoin="miter"/>
<path d="M1539.4,2250.7 Q1545.12,2253.77 1548.2,2258 Q1544.68,2261.65 1539.4,2265.3" fill="none" stroke="#ffffff" stroke-width="1.8" stroke-linejoin="miter"/>
<line x1="310.2" y1="2330" x2="1606.7" y2="2330" stroke="#68ee4c" stroke-width="1.8"/>
<path d="M338.9,2322.7 Q344.62,2325.77 347.7,2330 Q344.18,2333.65 338.9,2337.3" fill="none" stroke="#48f024" stroke-width="2.3" stroke-linejoin="miter"/>
<path d="M462.4,2322.7 Q468.12,2325.77 471.2,2330 Q467.68,2333.65 462.4,2337.3" fill="none" stroke="#48f024" stroke-width="2.3" stroke-linejoin="miter"/>
<path d="M525.2,2322.7 Q530.92,2325.77 534,2330 Q530.48,2333.65 525.2,2337.3" fill="none" stroke="#48f024" stroke-width="2.3" stroke-linejoin="miter"/>
<path d="M636,2322.7 Q641.72,2325.77 644.8,2330 Q641.28,2333.65 636,2337.3" fill="none" stroke="#48f024" stroke-width="2.3" stroke-linejoin="miter"/>
<path d="M698.1,2322.7 Q703.82,2325.77 706.9,2330 Q703.38,2333.65 698.1,2337.3" fill="none" stroke="#48f024" stroke-width="2.3" stroke-linejoin="miter"/>
<path d="M759.9,2322.7 Q765.62,2325.77 768.7,2330 Q765.18,2333.65 759.9,2337.3" fill="none" stroke="#48f024" stroke-width="2.3" stroke-linejoin="miter"/>
<path d="M821.4,2322.7 Q827.12,2325.77 830.2,2330 Q826.68,2333.65 821.4,2337.3" fill="none" stroke="#48f024" stroke-width="2.3" stroke-linejoin="miter"/>
<path d="M901.4,2322.7 Q907.12,2325.77 910.2,2330 Q906.68,2333.65 901.4,2337.3" fill="none" stroke="#48f024" stroke-width="2.3" stroke-linejoin="miter"/>
<path d="M963.9,2322.7 Q969.62,2325.77 972.7,2330 Q969.18,2333.65 963.9,2337.3" fill="none" stroke="#48f024" stroke-width="2.3" stroke-linejoin="miter"/>
<path d="M1024.7,2322.7 Q1030.42,2325.77 1033.5,2330 Q1029.98,2333.65 1024.7,2337.3" fill="none" stroke="#48f024" stroke-width="2.3" stroke-linejoin="miter"/>
<path d="M1087,2322.7 Q1092.72,2325.77 1095.8,2330 Q1092.28,2333.65 1087,2337.3" fill="none" stroke="#48f024" stroke-width="2.3" stroke-linejoin="miter"/>
<path d="M1148.7,2322.7 Q1154.42,2325.77 1157.5,2330 Q1153.98,2333.65 1148.7,2337.3" fill="none" stroke="#48f024" stroke-width="2.3" stroke-linejoin="miter"/>
<path d="M1210.3,2322.7 Q1216.02,2325.77 1219.1,2330 Q1215.58,2333.65 1210.3,2337.3" fill="none" stroke="#48f024" stroke-width="2.3" stroke-linejoin="miter"/>
<path d="M1272.6,2322.7 Q1278.32,2325.77 1281.4,2330 Q1277.88,2333.65 1272.6,2337.3" fill="none" stroke="#48f024" stroke-width="2.3" stroke-linejoin="miter"/>
<path d="M1334.6,2322.7 Q1340.32,2325.77 1343.4,2330 Q1339.88,2333.65 1334.6,2337.3" fill="none" stroke="#48f024" stroke-width="2.3" stroke-linejoin="miter"/>
<path d="M1396.2,2322.7 Q1401.92,2325.77 1405,2330 Q1401.48,2333.65 1396.2,2337.3" fill="none" stroke="#48f024" stroke-width="2.3" stroke-linejoin="miter"/>
<path d="M1479.3,2322.7 Q1485.02,2325.77 1488.1,2330 Q1484.58,2333.65 1479.3,2337.3" fill="none" stroke="#48f024" stroke-width="2.3" stroke-linejoin="miter"/>
<path d="M1541,2322.7 Q1546.72,2325.77 1549.8,2330 Q1546.28,2333.65 1541,2337.3" fill="none" stroke="#48f024" stroke-width="2.3" stroke-linejoin="miter"/>
<rect x="310.2" y="2321.8" width="4.6" height="16.4" fill="#48f024"/>
<rect x="372.1" y="2321.8" width="20.5" height="16.4" fill="#48f024"/>
<rect x="423" y="2321.8" width="16.3" height="16.4" fill="#48f024"/>
<rect x="579.1" y="2321.8" width="33.6" height="16.4" fill="#48f024"/>
<rect x="864.5" y="2321.8" width="14.8" height="16.4" fill="#48f024"/>
<rect x="1421.7" y="2321.8" width="34.8" height="16.4" fill="#48f024"/>
<rect x="1585.5" y="2321.8" width="21.2" height="16.4" fill="#48f024"/>
<text x="903.04" y="2144.6" font-size="20.5" fill="#505050" font-family="'Liberation Sans', Arial, sans-serif" textLength="93.93" lengthAdjust="spacingAndGlyphs">PB.3486.1</text>
<text x="904.54" y="2218.2" font-size="20.5" fill="#505050" font-family="'Liberation Sans', Arial, sans-serif" textLength="93.82" lengthAdjust="spacingAndGlyphs">PB.3486.3</text>
<text x="910.13" y="2310.3" font-size="20.5" fill="#505050" font-family="'Liberation Sans', Arial, sans-serif" textLength="94.7" lengthAdjust="spacingAndGlyphs">PB.3161.2</text>
<text x="911.53" y="2382" font-size="20.5" fill="#505050" font-family="'Liberation Sans', Arial, sans-serif" textLength="94.75" lengthAdjust="spacingAndGlyphs">PB.3161.3</text>
<text x="1631.86" y="2105.6" font-size="33.2" fill="#000" font-family="'Liberation Sans', Arial, sans-serif" textLength="163.18" lengthAdjust="spacingAndGlyphs">TPM - 44.4</text>
<text x="1631.85" y="2172.6" font-size="33.2" fill="#000" font-family="'Liberation Sans', Arial, sans-serif" textLength="145.48" lengthAdjust="spacingAndGlyphs">TPM - 1.2</text>
<text x="1631.86" y="2271.1" font-size="33.2" fill="#000" font-family="'Liberation Sans', Arial, sans-serif" textLength="145.34" lengthAdjust="spacingAndGlyphs">TPM - 0.5</text>
<text x="1631.86" y="2340" font-size="33.2" fill="#000" font-family="'Liberation Sans', Arial, sans-serif" textLength="145.34" lengthAdjust="spacingAndGlyphs">TPM - 0.5</text>
<text x="182.94" y="2160.3" font-size="46.5" fill="#000" font-family="Carlito, 'Liberation Sans', sans-serif" textLength="75.14" lengthAdjust="spacingAndGlyphs">P08</text>
<text x="182.95" y="2284.1" font-size="46.5" fill="#000" font-family="Carlito, 'Liberation Sans', sans-serif" textLength="74.87" lengthAdjust="spacingAndGlyphs">P06</text>
<line x1="296" y1="2441.2" x2="1612" y2="2441.2" stroke="#5f5ae6" stroke-width="2"/>
<polygon points="353.6,2441.2 348,2435.1 346.6,2436.6 350,2441.2 346.6,2445.8 348,2447.3" fill="#2200e2"/>
<polygon points="477.8,2441.2 472.2,2435.1 470.8,2436.6 474.2,2441.2 470.8,2445.8 472.2,2447.3" fill="#2200e2"/>
<polygon points="536.8,2441.2 531.2,2435.1 529.8,2436.6 533.2,2441.2 529.8,2445.8 531.2,2447.3" fill="#2200e2"/>
<polygon points="647.8,2441.2 642.2,2435.1 640.8,2436.6 644.2,2441.2 640.8,2445.8 642.2,2447.3" fill="#2200e2"/>
<polygon points="709.6,2441.2 704,2435.1 702.6,2436.6 706,2441.2 702.6,2445.8 704,2447.3" fill="#2200e2"/>
<polygon points="771.4,2441.2 765.8,2435.1 764.4,2436.6 767.8,2441.2 764.4,2445.8 765.8,2447.3" fill="#2200e2"/>
<polygon points="833.2,2441.2 827.6,2435.1 826.2,2436.6 829.6,2441.2 826.2,2445.8 827.6,2447.3" fill="#2200e2"/>
<polygon points="913,2441.2 907.4,2435.1 906,2436.6 909.4,2441.2 906,2445.8 907.4,2447.3" fill="#2200e2"/>
<polygon points="974.8,2441.2 969.2,2435.1 967.8,2436.6 971.2,2441.2 967.8,2445.8 969.2,2447.3" fill="#2200e2"/>
<polygon points="1036.7,2441.2 1031.1,2435.1 1029.7,2436.6 1033.1,2441.2 1029.7,2445.8 1031.1,2447.3" fill="#2200e2"/>
<polygon points="1098.1,2441.2 1092.5,2435.1 1091.1,2436.6 1094.5,2441.2 1091.1,2445.8 1092.5,2447.3" fill="#2200e2"/>
<polygon points="1160.3,2441.2 1154.7,2435.1 1153.3,2436.6 1156.7,2441.2 1153.3,2445.8 1154.7,2447.3" fill="#2200e2"/>
<polygon points="1221.8,2441.2 1216.2,2435.1 1214.8,2436.6 1218.2,2441.2 1214.8,2445.8 1216.2,2447.3" fill="#2200e2"/>
<polygon points="1283.4,2441.2 1277.8,2435.1 1276.4,2436.6 1279.8,2441.2 1276.4,2445.8 1277.8,2447.3" fill="#2200e2"/>
<polygon points="1345.2,2441.2 1339.6,2435.1 1338.2,2436.6 1341.6,2441.2 1338.2,2445.8 1339.6,2447.3" fill="#2200e2"/>
<polygon points="1408.1,2441.2 1402.5,2435.1 1401.1,2436.6 1404.5,2441.2 1401.1,2445.8 1402.5,2447.3" fill="#2200e2"/>
<polygon points="1490.5,2441.2 1484.9,2435.1 1483.5,2436.6 1486.9,2441.2 1483.5,2445.8 1484.9,2447.3" fill="#2200e2"/>
<polygon points="1552,2441.2 1546.4,2435.1 1545,2436.6 1548.4,2441.2 1545,2445.8 1546.4,2447.3" fill="#2200e2"/>
<rect x="296" y="2432.8" width="21.5" height="16.2" fill="#2200e2"/>
<rect x="374.3" y="2432.8" width="4.5" height="15.8" fill="#2200e2"/>
<rect x="378.6" y="2427.4" width="15.6" height="28.4" fill="#2200e2"/>
<rect x="425.2" y="2427.4" width="16.4" height="28.4" fill="#2200e2"/>
<rect x="582.7" y="2427.4" width="31.7" height="28.4" fill="#2200e2"/>
<rect x="866.8" y="2427.4" width="15" height="28.4" fill="#2200e2"/>
<rect x="1424" y="2427.4" width="35.6" height="28.4" fill="#2200e2"/>
<rect x="1587.8" y="2427.4" width="16.1" height="28.4" fill="#2200e2"/>
<rect x="1603.7" y="2433.1" width="8.4" height="16.1" fill="#2200e2"/>
<text x="388.5" y="2487.8" font-size="28.7" fill="#2200e2" font-weight="bold" font-family="'Liberation Sans', Arial, sans-serif" textLength="97.08" lengthAdjust="spacingAndGlyphs">Exon 3</text>
<text x="550.7" y="2487.8" font-size="28.7" fill="#2200e2" font-weight="bold" font-family="'Liberation Sans', Arial, sans-serif" textLength="96.99" lengthAdjust="spacingAndGlyphs">Exon 4</text>
<text x="812.67" y="2487.8" font-size="28.7" fill="#2200e2" font-weight="bold" font-family="'Liberation Sans', Arial, sans-serif" textLength="98.39" lengthAdjust="spacingAndGlyphs">Exon 5</text>
<text x="1389.11" y="2487.8" font-size="28.7" fill="#2200e2" font-weight="bold" font-family="'Liberation Sans', Arial, sans-serif" textLength="96.77" lengthAdjust="spacingAndGlyphs">Exon 6</text>
<text x="1563.3" y="2487.8" font-size="28.7" fill="#2200e2" font-weight="bold" font-family="'Liberation Sans', Arial, sans-serif" textLength="97" lengthAdjust="spacingAndGlyphs">Exon 7</text>
<text x="926.08" y="2493" font-size="20.5" fill="#333" font-family="'Liberation Sans', Arial, sans-serif" textLength="54.51" lengthAdjust="spacingAndGlyphs">RPS7</text>
<text x="86.11" y="2433.1" font-size="37.4" fill="#000" font-family="'Liberation Sans', Arial, sans-serif" textLength="173.05" lengthAdjust="spacingAndGlyphs">Annotated</text>
<text x="96.81" y="2479.9" font-size="37.4" fill="#000" font-family="'Liberation Sans', Arial, sans-serif" textLength="161.6" lengthAdjust="spacingAndGlyphs">reference</text>
</svg>
</body></html>
